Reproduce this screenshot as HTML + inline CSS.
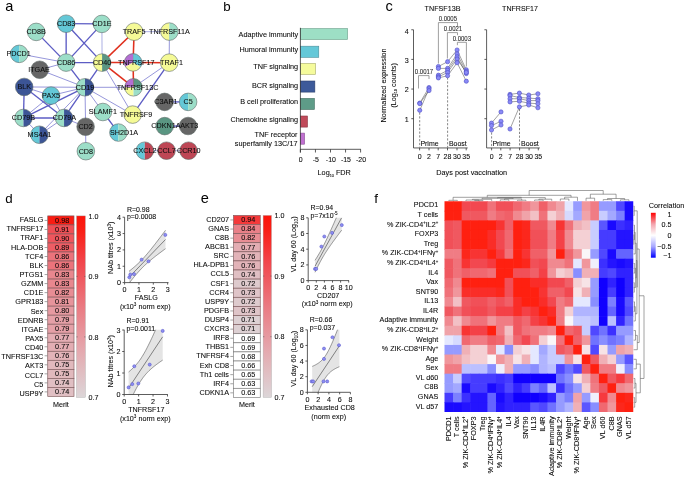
<!DOCTYPE html>
<html><head><meta charset="utf-8"><style>
html,body{margin:0;padding:0;background:#fff;width:685px;height:480px;overflow:hidden}
svg{display:block;font-family:"Liberation Sans", sans-serif;will-change:transform}
text{stroke:#000;stroke-width:0.08px}
</style></head><body>
<svg width="685" height="480" viewBox="0 0 685 480">
<rect width="685" height="480" fill="#fff"/>
<text x="5.30" y="10.80" font-size="14.6" text-anchor="start" fill="#000" style="stroke:none">a</text>
<text x="223.30" y="10.60" font-size="13.3" text-anchor="start" fill="#000" style="stroke:none">b</text>
<text x="385.40" y="10.90" font-size="14.6" text-anchor="start" fill="#000" style="stroke:none">c</text>
<text x="5.30" y="202.70" font-size="13.3" text-anchor="start" fill="#000" style="stroke:none">d</text>
<text x="200.80" y="202.60" font-size="14.6" text-anchor="start" fill="#000" style="stroke:none">e</text>
<text x="374.30" y="202.70" font-size="13.5" text-anchor="start" fill="#000" style="stroke:none">f</text>
<line x1="36.20" y1="31.90" x2="66.15" y2="62.60" stroke="#5c5cc4" stroke-width="1.35" />
<line x1="66.15" y1="23.70" x2="101.90" y2="23.90" stroke="#5c5cc4" stroke-width="1.35" />
<line x1="66.15" y1="23.70" x2="66.15" y2="62.60" stroke="#5c5cc4" stroke-width="1.35" />
<line x1="66.15" y1="23.70" x2="102.10" y2="62.60" stroke="#5c5cc4" stroke-width="1.35" />
<line x1="101.90" y1="23.90" x2="66.15" y2="62.60" stroke="#5c5cc4" stroke-width="1.35" />
<line x1="101.90" y1="23.90" x2="102.10" y2="62.60" stroke="#a2a6e0" stroke-width="0.9" />
<line x1="19.20" y1="53.85" x2="66.15" y2="62.60" stroke="#6a6acc" stroke-width="0.7" />
<line x1="39.70" y1="69.75" x2="66.15" y2="62.60" stroke="#6a6acc" stroke-width="0.7" />
<line x1="39.70" y1="69.75" x2="85.00" y2="87.30" stroke="#6a6acc" stroke-width="0.7" />
<line x1="66.15" y1="62.60" x2="102.10" y2="62.60" stroke="#5c5cc4" stroke-width="1.35" />
<line x1="66.15" y1="62.60" x2="85.00" y2="87.30" stroke="#5c5cc4" stroke-width="1.35" />
<line x1="102.10" y1="62.60" x2="85.00" y2="87.30" stroke="#5c5cc4" stroke-width="1.35" />
<line x1="102.10" y1="62.60" x2="132.65" y2="114.60" stroke="#6a6acc" stroke-width="0.7" />
<line x1="134.10" y1="31.70" x2="169.40" y2="31.60" stroke="#a2a6e0" stroke-width="0.9" />
<line x1="169.40" y1="31.60" x2="169.20" y2="62.65" stroke="#6a6acc" stroke-width="0.7" />
<line x1="169.20" y1="62.65" x2="133.50" y2="87.30" stroke="#6a6acc" stroke-width="0.7" />
<line x1="169.20" y1="62.65" x2="132.65" y2="114.60" stroke="#5c5cc4" stroke-width="1.35" />
<line x1="85.00" y1="87.30" x2="133.50" y2="87.30" stroke="#6a6acc" stroke-width="0.7" />
<line x1="85.00" y1="87.30" x2="132.65" y2="114.60" stroke="#6a6acc" stroke-width="0.7" />
<line x1="85.00" y1="87.30" x2="102.90" y2="112.00" stroke="#6a6acc" stroke-width="0.7" />
<line x1="85.00" y1="87.30" x2="85.60" y2="126.75" stroke="#6a6acc" stroke-width="0.7" />
<line x1="85.00" y1="87.30" x2="24.20" y2="86.95" stroke="#6a6acc" stroke-width="0.7" />
<line x1="85.00" y1="87.30" x2="51.05" y2="95.60" stroke="#6a6acc" stroke-width="0.7" />
<line x1="85.00" y1="87.30" x2="23.50" y2="117.95" stroke="#5c5cc4" stroke-width="1.35" />
<line x1="85.00" y1="87.30" x2="64.05" y2="117.95" stroke="#5c5cc4" stroke-width="1.35" />
<line x1="85.00" y1="87.30" x2="39.45" y2="134.75" stroke="#6a6acc" stroke-width="0.7" />
<line x1="24.20" y1="86.95" x2="51.05" y2="95.60" stroke="#6a6acc" stroke-width="0.7" />
<line x1="24.20" y1="86.95" x2="23.50" y2="117.95" stroke="#5c5cc4" stroke-width="1.35" />
<line x1="24.20" y1="86.95" x2="64.05" y2="117.95" stroke="#5c5cc4" stroke-width="1.35" />
<line x1="51.05" y1="95.60" x2="23.50" y2="117.95" stroke="#6a6acc" stroke-width="0.7" />
<line x1="51.05" y1="95.60" x2="64.05" y2="117.95" stroke="#6a6acc" stroke-width="0.7" />
<line x1="23.50" y1="117.95" x2="64.05" y2="117.95" stroke="#5c5cc4" stroke-width="1.35" />
<line x1="23.50" y1="117.95" x2="39.45" y2="134.75" stroke="#6a6acc" stroke-width="0.7" />
<line x1="64.05" y1="117.95" x2="39.45" y2="134.75" stroke="#6a6acc" stroke-width="0.7" />
<line x1="64.05" y1="117.95" x2="85.60" y2="126.75" stroke="#6a6acc" stroke-width="0.7" />
<line x1="85.60" y1="126.75" x2="85.85" y2="151.20" stroke="#6a6acc" stroke-width="0.7" />
<line x1="102.90" y1="112.00" x2="118.40" y2="132.55" stroke="#5c5cc4" stroke-width="1.35" />
<line x1="164.60" y1="101.90" x2="188.10" y2="101.90" stroke="#5c5cc4" stroke-width="1.35" />
<line x1="164.70" y1="126.10" x2="188.10" y2="126.00" stroke="#5c5cc4" stroke-width="1.35" />
<line x1="144.80" y1="150.70" x2="166.50" y2="150.70" stroke="#a2a6e0" stroke-width="0.9" />
<line x1="166.50" y1="150.70" x2="188.50" y2="150.70" stroke="#a2a6e0" stroke-width="0.9" />
<line x1="102.10" y1="62.60" x2="134.10" y2="31.70" stroke="#e0301e" stroke-width="1.55" />
<line x1="102.10" y1="62.60" x2="133.10" y2="62.40" stroke="#e0301e" stroke-width="1.55" />
<line x1="102.10" y1="62.60" x2="133.50" y2="87.30" stroke="#e0301e" stroke-width="1.55" />
<line x1="134.10" y1="31.70" x2="133.10" y2="62.40" stroke="#e0301e" stroke-width="1.55" />
<line x1="133.10" y1="62.40" x2="169.20" y2="62.65" stroke="#e0301e" stroke-width="1.55" />
<line x1="133.10" y1="62.40" x2="133.50" y2="87.30" stroke="#e0301e" stroke-width="1.55" />
<circle cx="36.2" cy="31.9" r="8.8" fill="#9cdec8"/>
<circle cx="36.2" cy="31.9" r="8.8" fill="none" stroke="#5e6a66" stroke-width="0.6"/>
<circle cx="66.15" cy="23.7" r="8.8" fill="#64c8d7"/>
<circle cx="66.15" cy="23.7" r="8.8" fill="none" stroke="#5e6a66" stroke-width="0.6"/>
<circle cx="101.9" cy="23.9" r="8.8" fill="#9cdec8"/>
<circle cx="101.9" cy="23.9" r="8.8" fill="none" stroke="#5e6a66" stroke-width="0.6"/>
<circle cx="134.1" cy="31.7" r="8.8" fill="#f5fa96"/>
<circle cx="134.1" cy="31.7" r="8.8" fill="none" stroke="#5e6a66" stroke-width="0.6"/>
<path d="M169.40,31.60 L169.40,22.80 A8.8,8.8 0 0 0 169.40,40.40 Z" fill="#f5fa96"/>
<path d="M169.40,31.60 L169.40,40.40 A8.8,8.8 0 0 0 169.40,22.80 Z" fill="#9cdec8"/>
<circle cx="169.4" cy="31.6" r="8.8" fill="none" stroke="#5e6a66" stroke-width="0.6"/>
<path d="M19.20,53.85 L19.20,45.05 A8.8,8.8 0 0 0 19.20,62.65 Z" fill="#64c8d7"/>
<path d="M19.20,53.85 L19.20,62.65 A8.8,8.8 0 0 0 19.20,45.05 Z" fill="#9cdec8"/>
<circle cx="19.2" cy="53.85" r="8.8" fill="none" stroke="#5e6a66" stroke-width="0.6"/>
<circle cx="66.15" cy="62.6" r="8.8" fill="#9cdec8"/>
<circle cx="66.15" cy="62.6" r="8.8" fill="none" stroke="#5e6a66" stroke-width="0.6"/>
<path d="M102.10,62.60 L102.10,53.80 A8.8,8.8 0 0 0 102.10,71.40 Z" fill="#f5fa96"/>
<path d="M102.10,62.60 L102.10,71.40 A8.8,8.8 0 0 0 102.10,53.80 Z" fill="#5a9682"/>
<circle cx="102.1" cy="62.6" r="8.8" fill="none" stroke="#5e6a66" stroke-width="0.6"/>
<path d="M133.10,62.40 L133.10,53.60 A8.8,8.8 0 0 0 125.48,66.80 Z" fill="#b46ed2"/>
<path d="M133.10,62.40 L125.48,66.80 A8.8,8.8 0 0 0 140.72,66.80 Z" fill="#f5fa96"/>
<path d="M133.10,62.40 L140.72,66.80 A8.8,8.8 0 0 0 133.10,53.60 Z" fill="#64c8d7"/>
<circle cx="133.1" cy="62.4" r="8.8" fill="none" stroke="#5e6a66" stroke-width="0.6"/>
<circle cx="169.2" cy="62.65" r="8.8" fill="#f5fa96"/>
<circle cx="169.2" cy="62.65" r="8.8" fill="none" stroke="#5e6a66" stroke-width="0.6"/>
<circle cx="39.7" cy="69.75" r="8.8" fill="#666666"/>
<circle cx="39.7" cy="69.75" r="8.8" fill="none" stroke="#5e6a66" stroke-width="0.6"/>
<circle cx="24.2" cy="86.95" r="8.8" fill="#3c5596"/>
<circle cx="24.2" cy="86.95" r="8.8" fill="none" stroke="#5e6a66" stroke-width="0.6"/>
<circle cx="51.05" cy="95.6" r="8.8" fill="#64c8d7"/>
<circle cx="51.05" cy="95.6" r="8.8" fill="none" stroke="#5e6a66" stroke-width="0.6"/>
<path d="M85.00,87.30 L85.00,78.50 A8.8,8.8 0 0 0 85.00,96.10 Z" fill="#9cdec8"/>
<path d="M85.00,87.30 L85.00,96.10 A8.8,8.8 0 0 0 85.00,78.50 Z" fill="#3c5596"/>
<circle cx="85" cy="87.3" r="8.8" fill="none" stroke="#5e6a66" stroke-width="0.6"/>
<path d="M133.50,87.30 L133.50,78.50 A8.8,8.8 0 0 0 124.70,87.30 Z" fill="#b46ed2"/>
<path d="M133.50,87.30 L124.70,87.30 A8.8,8.8 0 0 0 133.50,96.10 Z" fill="#f5fa96"/>
<path d="M133.50,87.30 L133.50,96.10 A8.8,8.8 0 0 0 142.30,87.30 Z" fill="#9cdec8"/>
<path d="M133.50,87.30 L142.30,87.30 A8.8,8.8 0 0 0 133.50,78.50 Z" fill="#5a9682"/>
<circle cx="133.5" cy="87.3" r="8.8" fill="none" stroke="#5e6a66" stroke-width="0.6"/>
<circle cx="164.6" cy="101.9" r="8.8" fill="#666666"/>
<circle cx="164.6" cy="101.9" r="8.8" fill="none" stroke="#5e6a66" stroke-width="0.6"/>
<path d="M188.10,101.90 L188.10,93.10 A8.8,8.8 0 0 0 188.10,110.70 Z" fill="#64c8d7"/>
<path d="M188.10,101.90 L188.10,110.70 A8.8,8.8 0 0 0 188.10,93.10 Z" fill="#9cdec8"/>
<circle cx="188.1" cy="101.9" r="8.8" fill="none" stroke="#5e6a66" stroke-width="0.6"/>
<circle cx="102.9" cy="112.0" r="8.8" fill="#9cdec8"/>
<circle cx="102.9" cy="112.0" r="8.8" fill="none" stroke="#5e6a66" stroke-width="0.6"/>
<circle cx="132.65" cy="114.6" r="8.8" fill="#f5fa96"/>
<circle cx="132.65" cy="114.6" r="8.8" fill="none" stroke="#5e6a66" stroke-width="0.6"/>
<path d="M23.50,117.95 L23.50,109.15 A8.8,8.8 0 0 0 23.50,126.75 Z" fill="#9cdec8"/>
<path d="M23.50,117.95 L23.50,126.75 A8.8,8.8 0 0 0 23.50,109.15 Z" fill="#3c5596"/>
<circle cx="23.5" cy="117.95" r="8.8" fill="none" stroke="#5e6a66" stroke-width="0.6"/>
<path d="M64.05,117.95 L64.05,109.15 A8.8,8.8 0 0 0 64.05,126.75 Z" fill="#9cdec8"/>
<path d="M64.05,117.95 L64.05,126.75 A8.8,8.8 0 0 0 64.05,109.15 Z" fill="#3c5596"/>
<circle cx="64.05" cy="117.95" r="8.8" fill="none" stroke="#5e6a66" stroke-width="0.6"/>
<circle cx="85.6" cy="126.75" r="8.8" fill="#666666"/>
<circle cx="85.6" cy="126.75" r="8.8" fill="none" stroke="#5e6a66" stroke-width="0.6"/>
<path d="M118.40,132.55 L118.40,123.75 A8.8,8.8 0 0 0 118.40,141.35 Z" fill="#64c8d7"/>
<path d="M118.40,132.55 L118.40,141.35 A8.8,8.8 0 0 0 118.40,123.75 Z" fill="#9cdec8"/>
<circle cx="118.4" cy="132.55" r="8.8" fill="none" stroke="#5e6a66" stroke-width="0.6"/>
<circle cx="164.7" cy="126.1" r="8.8" fill="#5a9682"/>
<circle cx="164.7" cy="126.1" r="8.8" fill="none" stroke="#5e6a66" stroke-width="0.6"/>
<circle cx="188.1" cy="126.0" r="8.8" fill="#666666"/>
<circle cx="188.1" cy="126.0" r="8.8" fill="none" stroke="#5e6a66" stroke-width="0.6"/>
<path d="M39.45,134.75 L39.45,125.95 A8.8,8.8 0 0 0 39.45,143.55 Z" fill="#64c8d7"/>
<path d="M39.45,134.75 L39.45,143.55 A8.8,8.8 0 0 0 39.45,125.95 Z" fill="#3c5596"/>
<circle cx="39.45" cy="134.75" r="8.8" fill="none" stroke="#5e6a66" stroke-width="0.6"/>
<circle cx="85.85" cy="151.2" r="8.8" fill="#9cdec8"/>
<circle cx="85.85" cy="151.2" r="8.8" fill="none" stroke="#5e6a66" stroke-width="0.6"/>
<path d="M144.80,150.70 L144.80,141.90 A8.8,8.8 0 0 0 144.80,159.50 Z" fill="#64c8d7"/>
<path d="M144.80,150.70 L144.80,159.50 A8.8,8.8 0 0 0 144.80,141.90 Z" fill="#be4655"/>
<circle cx="144.8" cy="150.7" r="8.8" fill="none" stroke="#5e6a66" stroke-width="0.6"/>
<circle cx="166.5" cy="150.7" r="8.8" fill="#be4655"/>
<circle cx="166.5" cy="150.7" r="8.8" fill="none" stroke="#5e6a66" stroke-width="0.6"/>
<circle cx="188.5" cy="150.7" r="8.8" fill="#be4655"/>
<circle cx="188.5" cy="150.7" r="8.8" fill="none" stroke="#5e6a66" stroke-width="0.6"/>
<text transform="translate(36.20,34.20) scale(0.95,1)" font-size="7.6" text-anchor="middle" fill="#101010">CD8B</text>
<text transform="translate(66.15,26.00) scale(0.95,1)" font-size="7.6" text-anchor="middle" fill="#101010">CD83</text>
<text transform="translate(101.90,26.20) scale(0.95,1)" font-size="7.6" text-anchor="middle" fill="#101010">CD1E</text>
<text transform="translate(134.10,34.00) scale(0.95,1)" font-size="7.6" text-anchor="middle" fill="#101010">TRAF5</text>
<text transform="translate(169.40,33.90) scale(0.95,1)" font-size="7.6" text-anchor="middle" fill="#101010">TNFRSF11A</text>
<text transform="translate(18.60,56.15) scale(0.95,1)" font-size="7.6" text-anchor="middle" fill="#101010">PDCD1</text>
<text transform="translate(66.15,64.90) scale(0.95,1)" font-size="7.6" text-anchor="middle" fill="#101010">CD86</text>
<text transform="translate(102.10,64.90) scale(0.95,1)" font-size="7.6" text-anchor="middle" fill="#101010">CD40</text>
<text transform="translate(136.25,64.70) scale(0.95,1)" font-size="7.6" text-anchor="middle" fill="#101010">TNFRSF17</text>
<text transform="translate(171.50,64.95) scale(0.95,1)" font-size="7.6" text-anchor="middle" fill="#101010">TRAF1</text>
<text transform="translate(38.95,72.05) scale(0.95,1)" font-size="7.6" text-anchor="middle" fill="#101010">ITGAE</text>
<text transform="translate(24.20,89.25) scale(0.95,1)" font-size="7.6" text-anchor="middle" fill="#101010">BLK</text>
<text transform="translate(51.05,97.90) scale(0.95,1)" font-size="7.6" text-anchor="middle" fill="#101010">PAX5</text>
<text transform="translate(85.00,89.60) scale(0.95,1)" font-size="7.6" text-anchor="middle" fill="#101010">CD19</text>
<text transform="translate(137.50,89.60) scale(0.95,1)" font-size="7.6" text-anchor="middle" fill="#101010">TNFRSF13C</text>
<text transform="translate(166.00,104.20) scale(0.95,1)" font-size="7.6" text-anchor="middle" fill="#101010">C3AR1</text>
<text transform="translate(188.10,104.20) scale(0.95,1)" font-size="7.6" text-anchor="middle" fill="#101010">C5</text>
<text transform="translate(102.90,114.30) scale(0.95,1)" font-size="7.6" text-anchor="middle" fill="#101010">SLAMF1</text>
<text transform="translate(135.90,116.90) scale(0.95,1)" font-size="7.6" text-anchor="middle" fill="#101010">TNFRSF9</text>
<text transform="translate(23.50,120.25) scale(0.95,1)" font-size="7.6" text-anchor="middle" fill="#101010">CD79B</text>
<text transform="translate(64.45,120.25) scale(0.95,1)" font-size="7.6" text-anchor="middle" fill="#101010">CD79A</text>
<text transform="translate(85.60,129.05) scale(0.95,1)" font-size="7.6" text-anchor="middle" fill="#101010">CD2</text>
<text transform="translate(124.00,134.85) scale(0.95,1)" font-size="7.6" text-anchor="middle" fill="#101010">SH2D1A</text>
<text transform="translate(165.90,128.40) scale(0.95,1)" font-size="7.6" text-anchor="middle" fill="#101010">CDKN1A</text>
<text transform="translate(189.20,128.30) scale(0.95,1)" font-size="7.6" text-anchor="middle" fill="#101010">AKT3</text>
<text transform="translate(39.45,137.05) scale(0.95,1)" font-size="7.6" text-anchor="middle" fill="#101010">MS4A1</text>
<text transform="translate(85.85,153.50) scale(0.95,1)" font-size="7.6" text-anchor="middle" fill="#101010">CD8</text>
<text transform="translate(144.80,153.00) scale(0.95,1)" font-size="7.6" text-anchor="middle" fill="#101010">CXCL2</text>
<text transform="translate(166.50,153.00) scale(0.95,1)" font-size="7.6" text-anchor="middle" fill="#101010">CCL7</text>
<text transform="translate(188.75,153.00) scale(0.95,1)" font-size="7.6" text-anchor="middle" fill="#101010">CCR10</text>
<rect x="300.40" y="28.50" width="47.26" height="11.1" fill="#9ddfc5" stroke="#6f9f8c" stroke-width="0.6"/>
<text transform="translate(298.10,36.60) scale(0.955,1)" font-size="7.63" text-anchor="end" fill="#0c0c0c" >Adaptive immunity</text>
<rect x="300.40" y="46.20" width="18.36" height="11.1" fill="#64c8d8" stroke="#4a8e9a" stroke-width="0.6"/>
<text transform="translate(298.10,52.10) scale(0.955,1)" font-size="7.63" text-anchor="end" fill="#0c0c0c" >Humoral immunity</text>
<rect x="300.40" y="63.40" width="15.26" height="11.1" fill="#f5fb9c" stroke="#a8ac70" stroke-width="0.6"/>
<text transform="translate(298.10,69.20) scale(0.955,1)" font-size="7.63" text-anchor="end" fill="#0c0c0c" >TNF signaling</text>
<rect x="300.40" y="81.00" width="14.45" height="11.1" fill="#3d5a9a" stroke="#2c3f6c" stroke-width="0.6"/>
<text transform="translate(298.10,87.60) scale(0.955,1)" font-size="7.63" text-anchor="end" fill="#0c0c0c" >BCR signaling</text>
<rect x="300.40" y="98.40" width="14.00" height="11.1" fill="#5e9c88" stroke="#456f62" stroke-width="0.6"/>
<text transform="translate(298.10,104.30) scale(0.955,1)" font-size="7.63" text-anchor="end" fill="#0c0c0c" >B cell proliferation</text>
<rect x="300.40" y="116.00" width="7.07" height="11.1" fill="#c04a5a" stroke="#8a3540" stroke-width="0.6"/>
<text transform="translate(298.10,121.50) scale(0.955,1)" font-size="7.63" text-anchor="end" fill="#0c0c0c" >Chemokine signaling</text>
<rect x="300.40" y="133.10" width="4.21" height="11.1" fill="#c070d0" stroke="#8a5296" stroke-width="0.6"/>
<text transform="translate(297.50,137.10) scale(0.955,1)" font-size="7.63" text-anchor="end" fill="#0c0c0c" >TNF receptor</text>
<text transform="translate(297.50,145.60) scale(0.955,1)" font-size="7.63" text-anchor="end" fill="#0c0c0c" >superfamily 13C/17</text>
<line x1="300.40" y1="27.80" x2="300.40" y2="152.50" stroke="#333" stroke-width="0.8" />
<line x1="300.40" y1="149.30" x2="360.90" y2="149.30" stroke="#333" stroke-width="0.8" />
<line x1="300.40" y1="149.30" x2="300.40" y2="152.50" stroke="#333" stroke-width="0.8" />
<text transform="translate(300.80,162.00) scale(0.955,1)" font-size="7.31" text-anchor="middle" fill="#0c0c0c" >0</text>
<line x1="315.45" y1="149.30" x2="315.45" y2="152.50" stroke="#333" stroke-width="0.8" />
<text transform="translate(315.85,162.00) scale(0.955,1)" font-size="7.31" text-anchor="middle" fill="#0c0c0c" >-5</text>
<line x1="330.50" y1="149.30" x2="330.50" y2="152.50" stroke="#333" stroke-width="0.8" />
<text transform="translate(330.90,162.00) scale(0.955,1)" font-size="7.31" text-anchor="middle" fill="#0c0c0c" >-10</text>
<line x1="345.55" y1="149.30" x2="345.55" y2="152.50" stroke="#333" stroke-width="0.8" />
<text transform="translate(345.95,162.00) scale(0.955,1)" font-size="7.31" text-anchor="middle" fill="#0c0c0c" >-15</text>
<line x1="360.60" y1="149.30" x2="360.60" y2="152.50" stroke="#333" stroke-width="0.8" />
<text transform="translate(361.00,162.00) scale(0.955,1)" font-size="7.31" text-anchor="middle" fill="#0c0c0c" >-20</text>
<text transform="translate(334.2,175) scale(0.955,1)" font-size="7.63" text-anchor="middle" fill="#0c0c0c">Log<tspan font-size="3.97" dy="1.5">10</tspan><tspan dy="-1.5"> FDR</tspan></text>
<text transform="translate(442.50,11.00) scale(0.955,1)" font-size="7.52" text-anchor="middle" fill="#0c0c0c" >TNFSF13B</text>
<text transform="translate(520.00,10.90) scale(0.955,1)" font-size="7.42" text-anchor="middle" fill="#0c0c0c" >TNFRSF17</text>
<text transform="translate(386,85.4) rotate(-90) scale(0.955,1)" font-size="7.63" text-anchor="middle" fill="#0c0c0c">Normalized expression</text>
<text transform="translate(395.8,85.4) rotate(-90) scale(0.955,1)" font-size="7.63" text-anchor="middle" fill="#0c0c0c">(Log<tspan font-size="3.97" dy="1.5">10</tspan><tspan dy="-1.5"> counts)</tspan></text>
<line x1="413.50" y1="29.75" x2="413.50" y2="147.95" stroke="#333" stroke-width="0.8" />
<line x1="413.50" y1="147.95" x2="467.70" y2="147.95" stroke="#333" stroke-width="0.8" />
<line x1="411.30" y1="118.70" x2="413.50" y2="118.70" stroke="#333" stroke-width="0.8" />
<text transform="translate(408.80,122.10) scale(0.955,1)" font-size="7.52" text-anchor="end" fill="#0c0c0c" >1</text>
<line x1="411.30" y1="89.05" x2="413.50" y2="89.05" stroke="#333" stroke-width="0.8" />
<text transform="translate(408.80,92.45) scale(0.955,1)" font-size="7.52" text-anchor="end" fill="#0c0c0c" >2</text>
<line x1="411.30" y1="59.40" x2="413.50" y2="59.40" stroke="#333" stroke-width="0.8" />
<text transform="translate(408.80,62.80) scale(0.955,1)" font-size="7.52" text-anchor="end" fill="#0c0c0c" >3</text>
<line x1="411.30" y1="29.75" x2="413.50" y2="29.75" stroke="#333" stroke-width="0.8" />
<text transform="translate(408.80,33.95) scale(0.955,1)" font-size="7.52" text-anchor="end" fill="#0c0c0c" >4</text>
<line x1="419.60" y1="147.95" x2="419.60" y2="150.35" stroke="#333" stroke-width="0.8" />
<text transform="translate(419.60,158.80) scale(0.955,1)" font-size="7.31" text-anchor="middle" fill="#0c0c0c" >0</text>
<line x1="429.00" y1="147.95" x2="429.00" y2="150.35" stroke="#333" stroke-width="0.8" />
<text transform="translate(429.00,158.80) scale(0.955,1)" font-size="7.31" text-anchor="middle" fill="#0c0c0c" >2</text>
<line x1="438.20" y1="147.95" x2="438.20" y2="150.35" stroke="#333" stroke-width="0.8" />
<text transform="translate(438.20,158.80) scale(0.955,1)" font-size="7.31" text-anchor="middle" fill="#0c0c0c" >7</text>
<line x1="447.50" y1="147.95" x2="447.50" y2="150.35" stroke="#333" stroke-width="0.8" />
<text transform="translate(447.50,158.80) scale(0.955,1)" font-size="7.31" text-anchor="middle" fill="#0c0c0c" >28</text>
<line x1="457.00" y1="147.95" x2="457.00" y2="150.35" stroke="#333" stroke-width="0.8" />
<text transform="translate(457.00,158.80) scale(0.955,1)" font-size="7.31" text-anchor="middle" fill="#0c0c0c" >30</text>
<line x1="466.20" y1="147.95" x2="466.20" y2="150.35" stroke="#333" stroke-width="0.8" />
<text transform="translate(466.20,158.80) scale(0.955,1)" font-size="7.31" text-anchor="middle" fill="#0c0c0c" >35</text>
<text transform="translate(420.40,146.00) scale(0.955,1)" font-size="7.31" text-anchor="start" fill="#0c0c0c" >Prime</text>
<text transform="translate(448.90,146.00) scale(0.955,1)" font-size="7.31" text-anchor="start" fill="#0c0c0c" >Boost</text>
<line x1="486.60" y1="29.75" x2="486.60" y2="147.95" stroke="#333" stroke-width="0.8" />
<line x1="486.60" y1="147.95" x2="539.80" y2="147.95" stroke="#333" stroke-width="0.8" />
<line x1="484.40" y1="118.70" x2="486.60" y2="118.70" stroke="#333" stroke-width="0.8" />
<line x1="484.40" y1="89.05" x2="486.60" y2="89.05" stroke="#333" stroke-width="0.8" />
<line x1="484.40" y1="59.40" x2="486.60" y2="59.40" stroke="#333" stroke-width="0.8" />
<line x1="484.40" y1="29.75" x2="486.60" y2="29.75" stroke="#333" stroke-width="0.8" />
<line x1="491.60" y1="147.95" x2="491.60" y2="150.35" stroke="#333" stroke-width="0.8" />
<text transform="translate(491.60,158.80) scale(0.955,1)" font-size="7.31" text-anchor="middle" fill="#0c0c0c" >0</text>
<line x1="500.80" y1="147.95" x2="500.80" y2="150.35" stroke="#333" stroke-width="0.8" />
<text transform="translate(500.80,158.80) scale(0.955,1)" font-size="7.31" text-anchor="middle" fill="#0c0c0c" >2</text>
<line x1="510.10" y1="147.95" x2="510.10" y2="150.35" stroke="#333" stroke-width="0.8" />
<text transform="translate(510.10,158.80) scale(0.955,1)" font-size="7.31" text-anchor="middle" fill="#0c0c0c" >7</text>
<line x1="519.60" y1="147.95" x2="519.60" y2="150.35" stroke="#333" stroke-width="0.8" />
<text transform="translate(519.60,158.80) scale(0.955,1)" font-size="7.31" text-anchor="middle" fill="#0c0c0c" >28</text>
<line x1="529.10" y1="147.95" x2="529.10" y2="150.35" stroke="#333" stroke-width="0.8" />
<text transform="translate(529.10,158.80) scale(0.955,1)" font-size="7.31" text-anchor="middle" fill="#0c0c0c" >30</text>
<line x1="538.30" y1="147.95" x2="538.30" y2="150.35" stroke="#333" stroke-width="0.8" />
<text transform="translate(538.30,158.80) scale(0.955,1)" font-size="7.31" text-anchor="middle" fill="#0c0c0c" >35</text>
<text transform="translate(492.40,146.00) scale(0.955,1)" font-size="7.31" text-anchor="start" fill="#0c0c0c" >Prime</text>
<text transform="translate(521.00,146.00) scale(0.955,1)" font-size="7.31" text-anchor="start" fill="#0c0c0c" >Boost</text>
<text transform="translate(471.70,175.20) scale(0.955,1)" font-size="7.63" text-anchor="middle" fill="#0c0c0c" >Days post vaccination</text>
<line x1="419.70" y1="112.50" x2="419.70" y2="147.50" stroke="#555" stroke-width="0.7" stroke-dasharray="2.2,1.6"/>
<line x1="447.60" y1="77.50" x2="447.60" y2="147.50" stroke="#555" stroke-width="0.7" stroke-dasharray="2.2,1.6"/>
<line x1="491.60" y1="132.50" x2="491.60" y2="147.50" stroke="#555" stroke-width="0.7" stroke-dasharray="2.2,1.6"/>
<line x1="519.50" y1="109.00" x2="519.50" y2="147.50" stroke="#555" stroke-width="0.7" stroke-dasharray="2.2,1.6"/>
<polyline points="438.4,63.5 438.4,22.6 457.5,22.6 457.5,26.2" fill="none" stroke="#777" stroke-width="0.7"/>
<text transform="translate(447.80,20.90) scale(0.955,1)" font-size="6.27" text-anchor="middle" fill="#333" >0.0005</text>
<polyline points="447.4,58.5 447.4,32.6 457.5,32.6 457.5,35.2" fill="none" stroke="#777" stroke-width="0.7"/>
<text transform="translate(453.00,30.80) scale(0.955,1)" font-size="6.27" text-anchor="middle" fill="#333" >0.0021</text>
<polyline points="457.4,45.2 457.4,42.3 466.4,42.3 466.4,66.5" fill="none" stroke="#777" stroke-width="0.7"/>
<text transform="translate(461.80,40.80) scale(0.955,1)" font-size="6.27" text-anchor="middle" fill="#333" >0.0003</text>
<polyline points="418.5,88.5 418.5,75.6 429.0,75.6 429.0,79.0" fill="none" stroke="#777" stroke-width="0.7"/>
<text transform="translate(424.00,74.40) scale(0.955,1)" font-size="6.27" text-anchor="middle" fill="#333" >0.0017</text>
<polyline points="419.75,103.10 429.00,87.50" fill="none" stroke="#444" stroke-width="0.5"/>
<polyline points="419.75,103.60 429.00,90.60" fill="none" stroke="#444" stroke-width="0.5"/>
<polyline points="419.75,110.30 429.00,88.80" fill="none" stroke="#444" stroke-width="0.5"/>
<polyline points="438.40,66.50 447.60,61.70 457.10,50.00 466.30,69.80" fill="none" stroke="#444" stroke-width="0.5"/>
<polyline points="438.40,68.40 447.60,68.40 457.10,54.00 466.30,71.40" fill="none" stroke="#444" stroke-width="0.5"/>
<polyline points="438.40,75.20 447.60,70.30 457.10,56.80 466.30,73.60" fill="none" stroke="#444" stroke-width="0.5"/>
<polyline points="438.40,76.80 447.60,72.50 457.10,59.00 466.30,72.50" fill="none" stroke="#444" stroke-width="0.5"/>
<polyline points="438.40,77.90 447.60,75.75 457.10,62.75 466.30,81.20" fill="none" stroke="#444" stroke-width="0.5"/>
<circle cx="419.75" cy="103.10" r="2.1" fill="#8a8af6" stroke="#4c4cc4" stroke-width="0.6"/>
<circle cx="419.75" cy="103.60" r="2.1" fill="#8a8af6" stroke="#4c4cc4" stroke-width="0.6"/>
<circle cx="419.75" cy="110.30" r="2.1" fill="#8a8af6" stroke="#4c4cc4" stroke-width="0.6"/>
<circle cx="429.00" cy="87.50" r="2.1" fill="#8a8af6" stroke="#4c4cc4" stroke-width="0.6"/>
<circle cx="429.00" cy="88.80" r="2.1" fill="#8a8af6" stroke="#4c4cc4" stroke-width="0.6"/>
<circle cx="429.00" cy="90.60" r="2.1" fill="#8a8af6" stroke="#4c4cc4" stroke-width="0.6"/>
<circle cx="438.40" cy="66.50" r="2.1" fill="#8a8af6" stroke="#4c4cc4" stroke-width="0.6"/>
<circle cx="438.40" cy="68.40" r="2.1" fill="#8a8af6" stroke="#4c4cc4" stroke-width="0.6"/>
<circle cx="438.40" cy="75.20" r="2.1" fill="#8a8af6" stroke="#4c4cc4" stroke-width="0.6"/>
<circle cx="438.40" cy="76.80" r="2.1" fill="#8a8af6" stroke="#4c4cc4" stroke-width="0.6"/>
<circle cx="438.40" cy="77.90" r="2.1" fill="#8a8af6" stroke="#4c4cc4" stroke-width="0.6"/>
<circle cx="447.60" cy="61.70" r="2.1" fill="#8a8af6" stroke="#4c4cc4" stroke-width="0.6"/>
<circle cx="447.60" cy="68.40" r="2.1" fill="#8a8af6" stroke="#4c4cc4" stroke-width="0.6"/>
<circle cx="447.60" cy="70.30" r="2.1" fill="#8a8af6" stroke="#4c4cc4" stroke-width="0.6"/>
<circle cx="447.60" cy="72.50" r="2.1" fill="#8a8af6" stroke="#4c4cc4" stroke-width="0.6"/>
<circle cx="447.60" cy="75.75" r="2.1" fill="#8a8af6" stroke="#4c4cc4" stroke-width="0.6"/>
<circle cx="457.10" cy="50.00" r="2.1" fill="#8a8af6" stroke="#4c4cc4" stroke-width="0.6"/>
<circle cx="457.10" cy="54.00" r="2.1" fill="#8a8af6" stroke="#4c4cc4" stroke-width="0.6"/>
<circle cx="457.10" cy="56.80" r="2.1" fill="#8a8af6" stroke="#4c4cc4" stroke-width="0.6"/>
<circle cx="457.10" cy="59.00" r="2.1" fill="#8a8af6" stroke="#4c4cc4" stroke-width="0.6"/>
<circle cx="457.10" cy="62.75" r="2.1" fill="#8a8af6" stroke="#4c4cc4" stroke-width="0.6"/>
<circle cx="466.30" cy="69.80" r="2.1" fill="#8a8af6" stroke="#4c4cc4" stroke-width="0.6"/>
<circle cx="466.30" cy="71.40" r="2.1" fill="#8a8af6" stroke="#4c4cc4" stroke-width="0.6"/>
<circle cx="466.30" cy="73.60" r="2.1" fill="#8a8af6" stroke="#4c4cc4" stroke-width="0.6"/>
<circle cx="466.30" cy="81.20" r="2.1" fill="#8a8af6" stroke="#4c4cc4" stroke-width="0.6"/>
<circle cx="466.30" cy="72.50" r="2.1" fill="#8a8af6" stroke="#4c4cc4" stroke-width="0.6"/>
<polyline points="491.50,123.10 501.00,111.90" fill="none" stroke="#444" stroke-width="0.5"/>
<polyline points="491.50,125.60 501.00,121.25" fill="none" stroke="#444" stroke-width="0.5"/>
<polyline points="491.50,130.00 501.00,125.00" fill="none" stroke="#444" stroke-width="0.5"/>
<polyline points="510.00,94.40 519.40,93.10 528.75,95.00 537.90,93.75" fill="none" stroke="#444" stroke-width="0.5"/>
<polyline points="510.00,95.60 519.40,97.50 528.75,98.10 537.90,98.75" fill="none" stroke="#444" stroke-width="0.5"/>
<polyline points="510.00,98.75 519.40,98.75 528.75,100.60 537.90,100.60" fill="none" stroke="#444" stroke-width="0.5"/>
<polyline points="510.00,101.90 519.40,101.25 528.75,103.10 537.90,103.75" fill="none" stroke="#444" stroke-width="0.5"/>
<polyline points="510.00,129.00 519.40,106.90 528.75,105.00 537.90,107.75" fill="none" stroke="#444" stroke-width="0.5"/>
<circle cx="491.50" cy="123.10" r="2.1" fill="#8a8af6" stroke="#4c4cc4" stroke-width="0.6"/>
<circle cx="491.50" cy="125.60" r="2.1" fill="#8a8af6" stroke="#4c4cc4" stroke-width="0.6"/>
<circle cx="491.50" cy="130.00" r="2.1" fill="#8a8af6" stroke="#4c4cc4" stroke-width="0.6"/>
<circle cx="501.00" cy="111.90" r="2.1" fill="#8a8af6" stroke="#4c4cc4" stroke-width="0.6"/>
<circle cx="501.00" cy="121.25" r="2.1" fill="#8a8af6" stroke="#4c4cc4" stroke-width="0.6"/>
<circle cx="501.00" cy="125.00" r="2.1" fill="#8a8af6" stroke="#4c4cc4" stroke-width="0.6"/>
<circle cx="510.00" cy="94.40" r="2.1" fill="#8a8af6" stroke="#4c4cc4" stroke-width="0.6"/>
<circle cx="510.00" cy="95.60" r="2.1" fill="#8a8af6" stroke="#4c4cc4" stroke-width="0.6"/>
<circle cx="510.00" cy="98.75" r="2.1" fill="#8a8af6" stroke="#4c4cc4" stroke-width="0.6"/>
<circle cx="510.00" cy="101.90" r="2.1" fill="#8a8af6" stroke="#4c4cc4" stroke-width="0.6"/>
<circle cx="510.00" cy="129.00" r="2.1" fill="#8a8af6" stroke="#4c4cc4" stroke-width="0.6"/>
<circle cx="519.40" cy="93.10" r="2.1" fill="#8a8af6" stroke="#4c4cc4" stroke-width="0.6"/>
<circle cx="519.40" cy="97.50" r="2.1" fill="#8a8af6" stroke="#4c4cc4" stroke-width="0.6"/>
<circle cx="519.40" cy="98.75" r="2.1" fill="#8a8af6" stroke="#4c4cc4" stroke-width="0.6"/>
<circle cx="519.40" cy="101.25" r="2.1" fill="#8a8af6" stroke="#4c4cc4" stroke-width="0.6"/>
<circle cx="519.40" cy="106.90" r="2.1" fill="#8a8af6" stroke="#4c4cc4" stroke-width="0.6"/>
<circle cx="528.75" cy="95.00" r="2.1" fill="#8a8af6" stroke="#4c4cc4" stroke-width="0.6"/>
<circle cx="528.75" cy="98.10" r="2.1" fill="#8a8af6" stroke="#4c4cc4" stroke-width="0.6"/>
<circle cx="528.75" cy="100.60" r="2.1" fill="#8a8af6" stroke="#4c4cc4" stroke-width="0.6"/>
<circle cx="528.75" cy="103.10" r="2.1" fill="#8a8af6" stroke="#4c4cc4" stroke-width="0.6"/>
<circle cx="528.75" cy="105.00" r="2.1" fill="#8a8af6" stroke="#4c4cc4" stroke-width="0.6"/>
<circle cx="537.90" cy="93.75" r="2.1" fill="#8a8af6" stroke="#4c4cc4" stroke-width="0.6"/>
<circle cx="537.90" cy="98.75" r="2.1" fill="#8a8af6" stroke="#4c4cc4" stroke-width="0.6"/>
<circle cx="537.90" cy="100.60" r="2.1" fill="#8a8af6" stroke="#4c4cc4" stroke-width="0.6"/>
<circle cx="537.90" cy="103.75" r="2.1" fill="#8a8af6" stroke="#4c4cc4" stroke-width="0.6"/>
<circle cx="537.90" cy="107.75" r="2.1" fill="#8a8af6" stroke="#4c4cc4" stroke-width="0.6"/>
<rect x="47.75" y="215.90" width="26.25" height="9.03" fill="#fa1c12" stroke="#7e5a5c" stroke-width="0.65"/>
<text transform="translate(62.20,222.71) scale(0.955,1)" font-size="7.63" text-anchor="middle" fill="#0c0c0c" >0.98</text>
<text transform="translate(43.30,222.15) scale(0.955,1)" font-size="7.63" text-anchor="end" fill="#0c0c0c" >FASLG</text>
<line x1="44.60" y1="220.41" x2="47.45" y2="220.41" stroke="#666" stroke-width="0.6" />
<rect x="47.75" y="224.93" width="26.25" height="9.03" fill="#f04f55" stroke="#7e5a5c" stroke-width="0.65"/>
<text transform="translate(62.20,231.74) scale(0.955,1)" font-size="7.63" text-anchor="middle" fill="#0c0c0c" >0.91</text>
<text transform="translate(43.30,231.29) scale(0.955,1)" font-size="7.63" text-anchor="end" fill="#0c0c0c" >TNFRSF17</text>
<line x1="44.60" y1="229.44" x2="47.45" y2="229.44" stroke="#666" stroke-width="0.6" />
<rect x="47.75" y="233.95" width="26.25" height="9.03" fill="#ef565d" stroke="#7e5a5c" stroke-width="0.65"/>
<text transform="translate(62.20,240.76) scale(0.955,1)" font-size="7.63" text-anchor="middle" fill="#0c0c0c" >0.90</text>
<text transform="translate(43.30,240.43) scale(0.955,1)" font-size="7.63" text-anchor="end" fill="#0c0c0c" >TRAF1</text>
<line x1="44.60" y1="238.46" x2="47.45" y2="238.46" stroke="#666" stroke-width="0.6" />
<rect x="47.75" y="242.98" width="26.25" height="9.03" fill="#ee5d64" stroke="#7e5a5c" stroke-width="0.65"/>
<text transform="translate(62.20,249.79) scale(0.955,1)" font-size="7.63" text-anchor="middle" fill="#0c0c0c" >0.89</text>
<text transform="translate(43.30,249.58) scale(0.955,1)" font-size="7.63" text-anchor="end" fill="#0c0c0c" >HLA-DOB</text>
<line x1="44.60" y1="247.49" x2="47.45" y2="247.49" stroke="#666" stroke-width="0.6" />
<rect x="47.75" y="252.00" width="26.25" height="9.03" fill="#eb737b" stroke="#7e5a5c" stroke-width="0.65"/>
<text transform="translate(62.20,258.81) scale(0.955,1)" font-size="7.63" text-anchor="middle" fill="#0c0c0c" >0.86</text>
<text transform="translate(43.30,258.72) scale(0.955,1)" font-size="7.63" text-anchor="end" fill="#0c0c0c" >TCF4</text>
<line x1="44.60" y1="256.51" x2="47.45" y2="256.51" stroke="#666" stroke-width="0.6" />
<rect x="47.75" y="261.02" width="26.25" height="9.03" fill="#eb737b" stroke="#7e5a5c" stroke-width="0.65"/>
<text transform="translate(62.20,267.84) scale(0.955,1)" font-size="7.63" text-anchor="middle" fill="#0c0c0c" >0.86</text>
<text transform="translate(43.30,267.86) scale(0.955,1)" font-size="7.63" text-anchor="end" fill="#0c0c0c" >BLK</text>
<line x1="44.60" y1="265.54" x2="47.45" y2="265.54" stroke="#666" stroke-width="0.6" />
<rect x="47.75" y="270.05" width="26.25" height="9.03" fill="#e8878e" stroke="#7e5a5c" stroke-width="0.65"/>
<text transform="translate(62.20,276.86) scale(0.955,1)" font-size="7.63" text-anchor="middle" fill="#0c0c0c" >0.83</text>
<text transform="translate(43.30,277.00) scale(0.955,1)" font-size="7.63" text-anchor="end" fill="#0c0c0c" >PTGS1</text>
<line x1="44.60" y1="274.56" x2="47.45" y2="274.56" stroke="#666" stroke-width="0.6" />
<rect x="47.75" y="279.07" width="26.25" height="9.03" fill="#e8878e" stroke="#7e5a5c" stroke-width="0.65"/>
<text transform="translate(62.20,285.89) scale(0.955,1)" font-size="7.63" text-anchor="middle" fill="#0c0c0c" >0.83</text>
<text transform="translate(43.30,286.14) scale(0.955,1)" font-size="7.63" text-anchor="end" fill="#0c0c0c" >GZMM</text>
<line x1="44.60" y1="283.59" x2="47.45" y2="283.59" stroke="#666" stroke-width="0.6" />
<rect x="47.75" y="288.10" width="26.25" height="9.03" fill="#e88d94" stroke="#7e5a5c" stroke-width="0.65"/>
<text transform="translate(62.20,294.91) scale(0.955,1)" font-size="7.63" text-anchor="middle" fill="#0c0c0c" >0.82</text>
<text transform="translate(43.30,295.29) scale(0.955,1)" font-size="7.63" text-anchor="end" fill="#0c0c0c" >CD1E</text>
<line x1="44.60" y1="292.61" x2="47.45" y2="292.61" stroke="#666" stroke-width="0.6" />
<rect x="47.75" y="297.12" width="26.25" height="9.03" fill="#e7949b" stroke="#7e5a5c" stroke-width="0.65"/>
<text transform="translate(62.20,303.94) scale(0.955,1)" font-size="7.63" text-anchor="middle" fill="#0c0c0c" >0.81</text>
<text transform="translate(43.30,304.43) scale(0.955,1)" font-size="7.63" text-anchor="end" fill="#0c0c0c" >GPR183</text>
<line x1="44.60" y1="301.64" x2="47.45" y2="301.64" stroke="#666" stroke-width="0.6" />
<rect x="47.75" y="306.15" width="26.25" height="9.03" fill="#e69aa1" stroke="#7e5a5c" stroke-width="0.65"/>
<text transform="translate(62.20,312.96) scale(0.955,1)" font-size="7.63" text-anchor="middle" fill="#0c0c0c" >0.80</text>
<text transform="translate(43.30,313.57) scale(0.955,1)" font-size="7.63" text-anchor="end" fill="#0c0c0c" >Sex</text>
<line x1="44.60" y1="310.66" x2="47.45" y2="310.66" stroke="#666" stroke-width="0.6" />
<rect x="47.75" y="315.18" width="26.25" height="9.03" fill="#e5a0a7" stroke="#7e5a5c" stroke-width="0.65"/>
<text transform="translate(62.20,321.99) scale(0.955,1)" font-size="7.63" text-anchor="middle" fill="#0c0c0c" >0.79</text>
<text transform="translate(43.30,322.71) scale(0.955,1)" font-size="7.63" text-anchor="end" fill="#0c0c0c" >EDNRB</text>
<line x1="44.60" y1="319.69" x2="47.45" y2="319.69" stroke="#666" stroke-width="0.6" />
<rect x="47.75" y="324.20" width="26.25" height="9.03" fill="#e5a0a7" stroke="#7e5a5c" stroke-width="0.65"/>
<text transform="translate(62.20,331.01) scale(0.955,1)" font-size="7.63" text-anchor="middle" fill="#0c0c0c" >0.79</text>
<text transform="translate(43.30,331.85) scale(0.955,1)" font-size="7.63" text-anchor="end" fill="#0c0c0c" >ITGAE</text>
<line x1="44.60" y1="328.71" x2="47.45" y2="328.71" stroke="#666" stroke-width="0.6" />
<rect x="47.75" y="333.23" width="26.25" height="9.03" fill="#e3adb3" stroke="#7e5a5c" stroke-width="0.65"/>
<text transform="translate(62.20,340.04) scale(0.955,1)" font-size="7.63" text-anchor="middle" fill="#0c0c0c" >0.77</text>
<text transform="translate(43.30,341.00) scale(0.955,1)" font-size="7.63" text-anchor="end" fill="#0c0c0c" >PAX5</text>
<line x1="44.60" y1="337.74" x2="47.45" y2="337.74" stroke="#666" stroke-width="0.6" />
<rect x="47.75" y="342.25" width="26.25" height="9.03" fill="#e3adb3" stroke="#7e5a5c" stroke-width="0.65"/>
<text transform="translate(62.20,349.06) scale(0.955,1)" font-size="7.63" text-anchor="middle" fill="#0c0c0c" >0.77</text>
<text transform="translate(43.30,350.14) scale(0.955,1)" font-size="7.63" text-anchor="end" fill="#0c0c0c" >CD40</text>
<line x1="44.60" y1="346.76" x2="47.45" y2="346.76" stroke="#666" stroke-width="0.6" />
<rect x="47.75" y="351.27" width="26.25" height="9.03" fill="#e2b3b8" stroke="#7e5a5c" stroke-width="0.65"/>
<text transform="translate(62.20,358.09) scale(0.955,1)" font-size="7.63" text-anchor="middle" fill="#0c0c0c" >0.76</text>
<text transform="translate(43.30,359.28) scale(0.955,1)" font-size="7.63" text-anchor="end" fill="#0c0c0c" >TNFRSF13C</text>
<line x1="44.60" y1="355.79" x2="47.45" y2="355.79" stroke="#666" stroke-width="0.6" />
<rect x="47.75" y="360.30" width="26.25" height="9.03" fill="#e1b9bd" stroke="#7e5a5c" stroke-width="0.65"/>
<text transform="translate(62.20,367.11) scale(0.955,1)" font-size="7.63" text-anchor="middle" fill="#0c0c0c" >0.75</text>
<text transform="translate(43.30,368.42) scale(0.955,1)" font-size="7.63" text-anchor="end" fill="#0c0c0c" >AKT3</text>
<line x1="44.60" y1="364.81" x2="47.45" y2="364.81" stroke="#666" stroke-width="0.6" />
<rect x="47.75" y="369.33" width="26.25" height="9.03" fill="#e1b9bd" stroke="#7e5a5c" stroke-width="0.65"/>
<text transform="translate(62.20,376.14) scale(0.955,1)" font-size="7.63" text-anchor="middle" fill="#0c0c0c" >0.75</text>
<text transform="translate(43.30,377.56) scale(0.955,1)" font-size="7.63" text-anchor="end" fill="#0c0c0c" >CCL7</text>
<line x1="44.60" y1="373.84" x2="47.45" y2="373.84" stroke="#666" stroke-width="0.6" />
<rect x="47.75" y="378.35" width="26.25" height="9.03" fill="#e0bfc3" stroke="#7e5a5c" stroke-width="0.65"/>
<text transform="translate(62.20,385.16) scale(0.955,1)" font-size="7.63" text-anchor="middle" fill="#0c0c0c" >0.74</text>
<text transform="translate(43.30,386.71) scale(0.955,1)" font-size="7.63" text-anchor="end" fill="#0c0c0c" >C5</text>
<line x1="44.60" y1="382.86" x2="47.45" y2="382.86" stroke="#666" stroke-width="0.6" />
<rect x="47.75" y="387.38" width="26.25" height="9.03" fill="#e0bfc3" stroke="#7e5a5c" stroke-width="0.65"/>
<text transform="translate(62.20,394.19) scale(0.955,1)" font-size="7.63" text-anchor="middle" fill="#0c0c0c" >0.74</text>
<text transform="translate(43.30,395.85) scale(0.955,1)" font-size="7.63" text-anchor="end" fill="#0c0c0c" >USP9Y</text>
<line x1="44.60" y1="391.89" x2="47.45" y2="391.89" stroke="#666" stroke-width="0.6" />
<defs><linearGradient id="gd" x1="0" y1="0" x2="0" y2="1"><stop offset="0.000" stop-color="#fc140a"/><stop offset="0.083" stop-color="#f91f16"/><stop offset="0.167" stop-color="#f63130"/><stop offset="0.250" stop-color="#f2444a"/><stop offset="0.333" stop-color="#ef565d"/><stop offset="0.417" stop-color="#ed686f"/><stop offset="0.500" stop-color="#ea7a82"/><stop offset="0.583" stop-color="#e88a91"/><stop offset="0.667" stop-color="#e69aa1"/><stop offset="0.750" stop-color="#e4aab0"/><stop offset="0.833" stop-color="#e1b9bd"/><stop offset="0.917" stop-color="#dfc7cb"/><stop offset="1.000" stop-color="#dcd6d8"/></linearGradient></defs>
<rect x="76.50" y="215.90" width="8.90" height="181.50" fill="url(#gd)" stroke="#aaa" stroke-width="0.4"/>
<text transform="translate(88.40,218.50) scale(0.955,1)" font-size="7.52" text-anchor="start" fill="#0c0c0c" >1.0</text>
<line x1="76.50" y1="276.40" x2="77.70" y2="276.40" stroke="#555" stroke-width="0.6" />
<line x1="84.20" y1="276.40" x2="85.40" y2="276.40" stroke="#555" stroke-width="0.6" />
<text transform="translate(88.40,279.00) scale(0.955,1)" font-size="7.52" text-anchor="start" fill="#0c0c0c" >0.9</text>
<line x1="76.50" y1="336.90" x2="77.70" y2="336.90" stroke="#555" stroke-width="0.6" />
<line x1="84.20" y1="336.90" x2="85.40" y2="336.90" stroke="#555" stroke-width="0.6" />
<text transform="translate(88.40,339.50) scale(0.955,1)" font-size="7.52" text-anchor="start" fill="#0c0c0c" >0.8</text>
<text transform="translate(88.40,400.00) scale(0.955,1)" font-size="7.52" text-anchor="start" fill="#0c0c0c" >0.7</text>
<text transform="translate(60.88,407.10) scale(0.955,1)" font-size="7.52" text-anchor="middle" fill="#0c0c0c" >Merit</text>
<rect x="233.50" y="215.40" width="26.75" height="9.10" fill="#f4393a" stroke="#7e5a5c" stroke-width="0.65"/>
<text transform="translate(248.30,222.25) scale(0.955,1)" font-size="7.63" text-anchor="middle" fill="#0c0c0c" >0.94</text>
<text transform="translate(229.00,221.75) scale(0.955,1)" font-size="7.63" text-anchor="end" fill="#0c0c0c" >CD207</text>
<line x1="230.30" y1="219.95" x2="233.20" y2="219.95" stroke="#666" stroke-width="0.6" />
<rect x="233.50" y="224.50" width="26.75" height="9.10" fill="#e98088" stroke="#7e5a5c" stroke-width="0.65"/>
<text transform="translate(248.30,231.35) scale(0.955,1)" font-size="7.63" text-anchor="middle" fill="#0c0c0c" >0.84</text>
<text transform="translate(229.00,230.86) scale(0.955,1)" font-size="7.63" text-anchor="end" fill="#0c0c0c" >GNAS</text>
<line x1="230.30" y1="229.05" x2="233.20" y2="229.05" stroke="#666" stroke-width="0.6" />
<rect x="233.50" y="233.60" width="26.75" height="9.10" fill="#e88d94" stroke="#7e5a5c" stroke-width="0.65"/>
<text transform="translate(248.30,240.45) scale(0.955,1)" font-size="7.63" text-anchor="middle" fill="#0c0c0c" >0.82</text>
<text transform="translate(229.00,239.97) scale(0.955,1)" font-size="7.63" text-anchor="end" fill="#0c0c0c" >C8B</text>
<line x1="230.30" y1="238.15" x2="233.20" y2="238.15" stroke="#666" stroke-width="0.6" />
<rect x="233.50" y="242.70" width="26.75" height="9.10" fill="#e3adb3" stroke="#7e5a5c" stroke-width="0.65"/>
<text transform="translate(248.30,249.55) scale(0.955,1)" font-size="7.63" text-anchor="middle" fill="#0c0c0c" >0.77</text>
<text transform="translate(229.00,249.08) scale(0.955,1)" font-size="7.63" text-anchor="end" fill="#0c0c0c" >ABCB1</text>
<line x1="230.30" y1="247.25" x2="233.20" y2="247.25" stroke="#666" stroke-width="0.6" />
<rect x="233.50" y="251.80" width="26.75" height="9.10" fill="#e2b3b8" stroke="#7e5a5c" stroke-width="0.65"/>
<text transform="translate(248.30,258.65) scale(0.955,1)" font-size="7.63" text-anchor="middle" fill="#0c0c0c" >0.76</text>
<text transform="translate(229.00,258.19) scale(0.955,1)" font-size="7.63" text-anchor="end" fill="#0c0c0c" >SRC</text>
<line x1="230.30" y1="256.35" x2="233.20" y2="256.35" stroke="#666" stroke-width="0.6" />
<rect x="233.50" y="260.90" width="26.75" height="9.10" fill="#e2b3b8" stroke="#7e5a5c" stroke-width="0.65"/>
<text transform="translate(248.30,267.75) scale(0.955,1)" font-size="7.63" text-anchor="middle" fill="#0c0c0c" >0.76</text>
<text transform="translate(229.00,267.30) scale(0.955,1)" font-size="7.63" text-anchor="end" fill="#0c0c0c" >HLA-DPB1</text>
<line x1="230.30" y1="265.45" x2="233.20" y2="265.45" stroke="#666" stroke-width="0.6" />
<rect x="233.50" y="270.00" width="26.75" height="9.10" fill="#e0bfc3" stroke="#7e5a5c" stroke-width="0.65"/>
<text transform="translate(248.30,276.85) scale(0.955,1)" font-size="7.63" text-anchor="middle" fill="#0c0c0c" >0.74</text>
<text transform="translate(229.00,276.41) scale(0.955,1)" font-size="7.63" text-anchor="end" fill="#0c0c0c" >CCL5</text>
<line x1="230.30" y1="274.55" x2="233.20" y2="274.55" stroke="#666" stroke-width="0.6" />
<rect x="233.50" y="279.10" width="26.75" height="9.10" fill="#decacd" stroke="#7e5a5c" stroke-width="0.65"/>
<text transform="translate(248.30,285.95) scale(0.955,1)" font-size="7.63" text-anchor="middle" fill="#0c0c0c" >0.72</text>
<text transform="translate(229.00,285.52) scale(0.955,1)" font-size="7.63" text-anchor="end" fill="#0c0c0c" >CSF1</text>
<line x1="230.30" y1="283.65" x2="233.20" y2="283.65" stroke="#666" stroke-width="0.6" />
<rect x="233.50" y="288.20" width="26.75" height="9.10" fill="#dfc4c8" stroke="#7e5a5c" stroke-width="0.65"/>
<text transform="translate(248.30,295.05) scale(0.955,1)" font-size="7.63" text-anchor="middle" fill="#0c0c0c" >0.73</text>
<text transform="translate(229.00,294.63) scale(0.955,1)" font-size="7.63" text-anchor="end" fill="#0c0c0c" >CCR4</text>
<line x1="230.30" y1="292.75" x2="233.20" y2="292.75" stroke="#666" stroke-width="0.6" />
<rect x="233.50" y="297.30" width="26.75" height="9.10" fill="#decacd" stroke="#7e5a5c" stroke-width="0.65"/>
<text transform="translate(248.30,304.15) scale(0.955,1)" font-size="7.63" text-anchor="middle" fill="#0c0c0c" >0.72</text>
<text transform="translate(229.00,303.74) scale(0.955,1)" font-size="7.63" text-anchor="end" fill="#0c0c0c" >USP9Y</text>
<line x1="230.30" y1="301.85" x2="233.20" y2="301.85" stroke="#666" stroke-width="0.6" />
<rect x="233.50" y="306.40" width="26.75" height="9.10" fill="#dfc4c8" stroke="#7e5a5c" stroke-width="0.65"/>
<text transform="translate(248.30,313.25) scale(0.955,1)" font-size="7.63" text-anchor="middle" fill="#0c0c0c" >0.73</text>
<text transform="translate(229.00,312.85) scale(0.955,1)" font-size="7.63" text-anchor="end" fill="#0c0c0c" >PDGFB</text>
<line x1="230.30" y1="310.95" x2="233.20" y2="310.95" stroke="#666" stroke-width="0.6" />
<rect x="233.50" y="315.50" width="26.75" height="9.10" fill="#ddd0d3" stroke="#7e5a5c" stroke-width="0.65"/>
<text transform="translate(248.30,322.35) scale(0.955,1)" font-size="7.63" text-anchor="middle" fill="#0c0c0c" >0.71</text>
<text transform="translate(229.00,321.96) scale(0.955,1)" font-size="7.63" text-anchor="end" fill="#0c0c0c" >DUSP4</text>
<line x1="230.30" y1="320.05" x2="233.20" y2="320.05" stroke="#666" stroke-width="0.6" />
<rect x="233.50" y="324.60" width="26.75" height="9.10" fill="#ddd0d3" stroke="#7e5a5c" stroke-width="0.65"/>
<text transform="translate(248.30,331.45) scale(0.955,1)" font-size="7.63" text-anchor="middle" fill="#0c0c0c" >0.71</text>
<text transform="translate(229.00,331.07) scale(0.955,1)" font-size="7.63" text-anchor="end" fill="#0c0c0c" >CXCR3</text>
<line x1="230.30" y1="329.15" x2="233.20" y2="329.15" stroke="#666" stroke-width="0.6" />
<rect x="233.50" y="333.70" width="26.75" height="9.10" fill="#ffffff" stroke="#7a7a7a" stroke-width="0.65"/>
<text transform="translate(248.30,340.55) scale(0.955,1)" font-size="7.63" text-anchor="middle" fill="#0c0c0c" >0.69</text>
<text transform="translate(229.00,340.18) scale(0.955,1)" font-size="7.63" text-anchor="end" fill="#0c0c0c" >IRF8</text>
<line x1="230.30" y1="338.25" x2="233.20" y2="338.25" stroke="#666" stroke-width="0.6" />
<rect x="233.50" y="342.80" width="26.75" height="9.10" fill="#ffffff" stroke="#7a7a7a" stroke-width="0.65"/>
<text transform="translate(248.30,349.65) scale(0.955,1)" font-size="7.63" text-anchor="middle" fill="#0c0c0c" >0.69</text>
<text transform="translate(229.00,349.29) scale(0.955,1)" font-size="7.63" text-anchor="end" fill="#0c0c0c" >THBS1</text>
<line x1="230.30" y1="347.35" x2="233.20" y2="347.35" stroke="#666" stroke-width="0.6" />
<rect x="233.50" y="351.90" width="26.75" height="9.10" fill="#ffffff" stroke="#7a7a7a" stroke-width="0.65"/>
<text transform="translate(248.30,358.75) scale(0.955,1)" font-size="7.63" text-anchor="middle" fill="#0c0c0c" >0.68</text>
<text transform="translate(229.00,358.40) scale(0.955,1)" font-size="7.63" text-anchor="end" fill="#0c0c0c" >TNFRSF4</text>
<line x1="230.30" y1="356.45" x2="233.20" y2="356.45" stroke="#666" stroke-width="0.6" />
<rect x="233.50" y="361.00" width="26.75" height="9.10" fill="#ffffff" stroke="#7a7a7a" stroke-width="0.65"/>
<text transform="translate(248.30,367.85) scale(0.955,1)" font-size="7.63" text-anchor="middle" fill="#0c0c0c" >0.66</text>
<text transform="translate(229.00,367.51) scale(0.955,1)" font-size="7.63" text-anchor="end" fill="#0c0c0c" >Exh CD8</text>
<line x1="230.30" y1="365.55" x2="233.20" y2="365.55" stroke="#666" stroke-width="0.6" />
<rect x="233.50" y="370.10" width="26.75" height="9.10" fill="#ffffff" stroke="#7a7a7a" stroke-width="0.65"/>
<text transform="translate(248.30,376.95) scale(0.955,1)" font-size="7.63" text-anchor="middle" fill="#0c0c0c" >0.65</text>
<text transform="translate(229.00,376.62) scale(0.955,1)" font-size="7.63" text-anchor="end" fill="#0c0c0c" >Th1 cells</text>
<line x1="230.30" y1="374.65" x2="233.20" y2="374.65" stroke="#666" stroke-width="0.6" />
<rect x="233.50" y="379.20" width="26.75" height="9.10" fill="#ffffff" stroke="#7a7a7a" stroke-width="0.65"/>
<text transform="translate(248.30,386.05) scale(0.955,1)" font-size="7.63" text-anchor="middle" fill="#0c0c0c" >0.63</text>
<text transform="translate(229.00,385.73) scale(0.955,1)" font-size="7.63" text-anchor="end" fill="#0c0c0c" >IRF4</text>
<line x1="230.30" y1="383.75" x2="233.20" y2="383.75" stroke="#666" stroke-width="0.6" />
<rect x="233.50" y="388.30" width="26.75" height="9.10" fill="#ffffff" stroke="#7a7a7a" stroke-width="0.65"/>
<text transform="translate(248.30,395.15) scale(0.955,1)" font-size="7.63" text-anchor="middle" fill="#0c0c0c" >0.63</text>
<text transform="translate(229.00,394.84) scale(0.955,1)" font-size="7.63" text-anchor="end" fill="#0c0c0c" >CDKN1A</text>
<line x1="230.30" y1="392.85" x2="233.20" y2="392.85" stroke="#666" stroke-width="0.6" />
<defs><linearGradient id="ge" x1="0" y1="0" x2="0" y2="1"><stop offset="0.000" stop-color="#fc140a"/><stop offset="0.083" stop-color="#f91f16"/><stop offset="0.167" stop-color="#f63130"/><stop offset="0.250" stop-color="#f2444a"/><stop offset="0.333" stop-color="#ef565d"/><stop offset="0.417" stop-color="#ed686f"/><stop offset="0.500" stop-color="#ea7a82"/><stop offset="0.583" stop-color="#e88a91"/><stop offset="0.667" stop-color="#e69aa1"/><stop offset="0.750" stop-color="#e4aab0"/><stop offset="0.833" stop-color="#e1b9bd"/><stop offset="0.917" stop-color="#dfc7cb"/><stop offset="1.000" stop-color="#dcd6d8"/></linearGradient></defs>
<rect x="263.10" y="215.40" width="8.40" height="182.00" fill="url(#ge)" stroke="#aaa" stroke-width="0.4"/>
<text transform="translate(274.50,218.00) scale(0.955,1)" font-size="7.52" text-anchor="start" fill="#0c0c0c" >1.0</text>
<line x1="263.10" y1="276.07" x2="264.30" y2="276.07" stroke="#555" stroke-width="0.6" />
<line x1="270.30" y1="276.07" x2="271.50" y2="276.07" stroke="#555" stroke-width="0.6" />
<text transform="translate(274.50,278.67) scale(0.955,1)" font-size="7.52" text-anchor="start" fill="#0c0c0c" >0.9</text>
<line x1="263.10" y1="336.73" x2="264.30" y2="336.73" stroke="#555" stroke-width="0.6" />
<line x1="270.30" y1="336.73" x2="271.50" y2="336.73" stroke="#555" stroke-width="0.6" />
<text transform="translate(274.50,339.33) scale(0.955,1)" font-size="7.52" text-anchor="start" fill="#0c0c0c" >0.8</text>
<text transform="translate(274.50,400.00) scale(0.955,1)" font-size="7.52" text-anchor="start" fill="#0c0c0c" >0.7</text>
<text transform="translate(246.88,407.10) scale(0.955,1)" font-size="7.52" text-anchor="middle" fill="#0c0c0c" >Merit</text>
<defs><clipPath id="cp1"><rect x="124.60" y="217.20" width="45.90" height="65.40"/></clipPath></defs>
<g clip-path="url(#cp1)">
<polygon points="129.00,271.32 129.91,270.59 130.82,269.85 131.74,269.11 132.65,268.35 133.56,267.58 134.47,266.79 135.39,266.00 136.30,265.18 137.21,264.35 138.12,263.50 139.04,262.62 139.95,261.73 140.86,260.81 141.78,259.87 142.69,258.91 143.60,257.92 144.51,256.91 145.43,255.88 146.34,254.83 147.25,253.76 148.16,252.68 149.07,251.58 149.99,250.46 150.90,249.34 151.81,248.20 152.72,247.05 153.64,245.89 154.55,244.72 155.46,243.55 156.38,242.36 157.29,241.18 158.20,239.98 159.11,238.79 160.03,237.58 160.94,236.38 161.85,235.17 162.76,233.96 163.68,232.74 164.59,231.52 165.50,230.30 165.50,248.70 164.59,249.37 163.68,250.04 162.76,250.71 161.85,251.39 160.94,252.07 160.03,252.76 159.11,253.44 158.20,254.14 157.29,254.83 156.38,255.54 155.46,256.24 154.55,256.96 153.64,257.68 152.72,258.41 151.81,259.15 150.90,259.90 149.99,260.67 149.07,261.44 148.16,262.23 147.25,263.04 146.34,263.86 145.43,264.70 144.51,265.56 143.60,266.44 142.69,267.34 141.78,268.27 140.86,269.22 139.95,270.19 139.04,271.19 138.12,272.20 137.21,273.24 136.30,274.30 135.39,275.37 134.47,276.47 133.56,277.57 132.65,278.69 131.74,279.82 130.82,280.97 129.91,282.12 129.00,283.28" fill="#e4e4e4" stroke="none"/>
<polyline points="129.00,271.32 129.91,270.59 130.82,269.85 131.74,269.11 132.65,268.35 133.56,267.58 134.47,266.79 135.39,266.00 136.30,265.18 137.21,264.35 138.12,263.50 139.04,262.62 139.95,261.73 140.86,260.81 141.78,259.87 142.69,258.91 143.60,257.92 144.51,256.91 145.43,255.88 146.34,254.83 147.25,253.76 148.16,252.68 149.07,251.58 149.99,250.46 150.90,249.34 151.81,248.20 152.72,247.05 153.64,245.89 154.55,244.72 155.46,243.55 156.38,242.36 157.29,241.18 158.20,239.98 159.11,238.79 160.03,237.58 160.94,236.38 161.85,235.17 162.76,233.96 163.68,232.74 164.59,231.52 165.50,230.30" fill="none" stroke="#4a4a4a" stroke-width="0.55"/>
<polyline points="129.00,283.28 129.91,282.12 130.82,280.97 131.74,279.82 132.65,278.69 133.56,277.57 134.47,276.47 135.39,275.37 136.30,274.30 137.21,273.24 138.12,272.20 139.04,271.19 139.95,270.19 140.86,269.22 141.78,268.27 142.69,267.34 143.60,266.44 144.51,265.56 145.43,264.70 146.34,263.86 147.25,263.04 148.16,262.23 149.07,261.44 149.99,260.67 150.90,259.90 151.81,259.15 152.72,258.41 153.64,257.68 154.55,256.96 155.46,256.24 156.38,255.54 157.29,254.83 158.20,254.14 159.11,253.44 160.03,252.76 160.94,252.07 161.85,251.39 162.76,250.71 163.68,250.04 164.59,249.37 165.50,248.70" fill="none" stroke="#4a4a4a" stroke-width="0.55"/>
<line x1="129.00" y1="277.30" x2="165.50" y2="239.50" stroke="#3a3a3a" stroke-width="0.6" />
</g>
<line x1="124.60" y1="217.20" x2="124.60" y2="282.60" stroke="#333" stroke-width="0.8" />
<line x1="124.60" y1="282.60" x2="168.50" y2="282.60" stroke="#333" stroke-width="0.8" />
<line x1="122.60" y1="282.60" x2="124.60" y2="282.60" stroke="#333" stroke-width="0.8" />
<text transform="translate(121.00,285.10) scale(0.955,1)" font-size="7.52" text-anchor="end" fill="#0c0c0c" >0</text>
<line x1="122.60" y1="266.25" x2="124.60" y2="266.25" stroke="#333" stroke-width="0.8" />
<text transform="translate(121.00,268.75) scale(0.955,1)" font-size="7.52" text-anchor="end" fill="#0c0c0c" >1</text>
<line x1="122.60" y1="249.90" x2="124.60" y2="249.90" stroke="#333" stroke-width="0.8" />
<text transform="translate(121.00,252.40) scale(0.955,1)" font-size="7.52" text-anchor="end" fill="#0c0c0c" >2</text>
<line x1="122.60" y1="233.55" x2="124.60" y2="233.55" stroke="#333" stroke-width="0.8" />
<text transform="translate(121.00,236.05) scale(0.955,1)" font-size="7.52" text-anchor="end" fill="#0c0c0c" >3</text>
<line x1="122.60" y1="217.20" x2="124.60" y2="217.20" stroke="#333" stroke-width="0.8" />
<text transform="translate(121.00,219.70) scale(0.955,1)" font-size="7.52" text-anchor="end" fill="#0c0c0c" >4</text>
<line x1="124.60" y1="282.60" x2="124.60" y2="284.60" stroke="#333" stroke-width="0.8" />
<text transform="translate(124.60,291.80) scale(0.955,1)" font-size="7.52" text-anchor="middle" fill="#0c0c0c" >0</text>
<line x1="138.95" y1="282.60" x2="138.95" y2="284.60" stroke="#333" stroke-width="0.8" />
<text transform="translate(138.95,291.80) scale(0.955,1)" font-size="7.52" text-anchor="middle" fill="#0c0c0c" >1</text>
<line x1="153.30" y1="282.60" x2="153.30" y2="284.60" stroke="#333" stroke-width="0.8" />
<text transform="translate(153.30,291.80) scale(0.955,1)" font-size="7.52" text-anchor="middle" fill="#0c0c0c" >2</text>
<line x1="167.65" y1="282.60" x2="167.65" y2="284.60" stroke="#333" stroke-width="0.8" />
<text transform="translate(167.65,291.80) scale(0.955,1)" font-size="7.52" text-anchor="middle" fill="#0c0c0c" >3</text>
<circle cx="129.30" cy="277.30" r="1.55" fill="#8e8ef2" stroke="#5050c4" stroke-width="0.5"/>
<circle cx="130.30" cy="274.60" r="1.55" fill="#8e8ef2" stroke="#5050c4" stroke-width="0.5"/>
<circle cx="134.00" cy="274.10" r="1.55" fill="#8e8ef2" stroke="#5050c4" stroke-width="0.5"/>
<circle cx="141.60" cy="259.60" r="1.55" fill="#8e8ef2" stroke="#5050c4" stroke-width="0.5"/>
<circle cx="148.50" cy="261.30" r="1.55" fill="#8e8ef2" stroke="#5050c4" stroke-width="0.5"/>
<circle cx="165.30" cy="234.90" r="1.55" fill="#8e8ef2" stroke="#5050c4" stroke-width="0.5"/>
<text transform="translate(126.90,211.90) scale(0.955,1)" font-size="7.31" text-anchor="start" fill="#0c0c0c" >R=0.98</text>
<text transform="translate(126.90,219.30) scale(0.955,1)" font-size="7.31" fill="#0c0c0c">p=0.0008</text>
<text transform="translate(146.30,300.20) scale(0.955,1)" font-size="7.52" text-anchor="middle" fill="#0c0c0c" >FASLG</text>
<text transform="translate(145.30,309.00) scale(0.955,1)" font-size="7.52" text-anchor="middle" fill="#0c0c0c">(x10<tspan font-size="4.81" dy="-2.6">3</tspan><tspan dy="2.6"> norm exp)</tspan></text>
<text transform="translate(113.20,247.80) rotate(-90) scale(0.955,1)" font-size="7.52" text-anchor="middle" fill="#0c0c0c">NAb titres (x10<tspan font-size="4.81" dy="-2.6">3</tspan><tspan dy="2.6">)</tspan></text>
<defs><clipPath id="cp2"><rect x="124.20" y="329.80" width="45.60" height="64.70"/></clipPath></defs>
<g clip-path="url(#cp2)">
<polygon points="128.60,371.97 129.45,371.26 130.31,370.53 131.16,369.78 132.01,369.00 132.86,368.19 133.72,367.35 134.57,366.47 135.42,365.55 136.27,364.59 137.12,363.59 137.98,362.53 138.83,361.42 139.68,360.26 140.53,359.04 141.39,357.76 142.24,356.42 143.09,355.02 143.94,353.57 144.80,352.07 145.65,350.51 146.50,348.91 147.35,347.27 148.21,345.58 149.06,343.86 149.91,342.11 150.76,340.33 151.62,338.52 152.47,336.68 153.32,334.83 154.17,332.95 155.03,331.06 155.88,329.16 156.73,327.24 157.58,325.30 158.44,323.36 159.29,321.40 160.14,319.44 161.00,317.47 161.85,315.49 162.70,313.50 162.70,360.10 161.85,360.68 161.00,361.26 160.14,361.85 159.29,362.46 158.44,363.07 157.58,363.69 156.73,364.32 155.88,364.96 155.03,365.62 154.17,366.30 153.32,366.99 152.47,367.70 151.62,368.43 150.76,369.18 149.91,369.97 149.06,370.78 148.21,371.62 147.35,372.50 146.50,373.42 145.65,374.39 144.80,375.40 143.94,376.46 143.09,377.57 142.24,378.74 141.39,379.97 140.53,381.25 139.68,382.60 138.83,384.00 137.98,385.45 137.12,386.96 136.27,388.52 135.42,390.13 134.57,391.77 133.72,393.46 132.86,395.19 132.01,396.94 131.16,398.73 130.31,400.54 129.45,402.38 128.60,404.23" fill="#e4e4e4" stroke="none"/>
<polyline points="128.60,371.97 129.45,371.26 130.31,370.53 131.16,369.78 132.01,369.00 132.86,368.19 133.72,367.35 134.57,366.47 135.42,365.55 136.27,364.59 137.12,363.59 137.98,362.53 138.83,361.42 139.68,360.26 140.53,359.04 141.39,357.76 142.24,356.42 143.09,355.02 143.94,353.57 144.80,352.07 145.65,350.51 146.50,348.91 147.35,347.27 148.21,345.58 149.06,343.86 149.91,342.11 150.76,340.33 151.62,338.52 152.47,336.68 153.32,334.83 154.17,332.95 155.03,331.06 155.88,329.16 156.73,327.24 157.58,325.30 158.44,323.36 159.29,321.40 160.14,319.44 161.00,317.47 161.85,315.49 162.70,313.50" fill="none" stroke="#4a4a4a" stroke-width="0.55"/>
<polyline points="128.60,404.23 129.45,402.38 130.31,400.54 131.16,398.73 132.01,396.94 132.86,395.19 133.72,393.46 134.57,391.77 135.42,390.13 136.27,388.52 137.12,386.96 137.98,385.45 138.83,384.00 139.68,382.60 140.53,381.25 141.39,379.97 142.24,378.74 143.09,377.57 143.94,376.46 144.80,375.40 145.65,374.39 146.50,373.42 147.35,372.50 148.21,371.62 149.06,370.78 149.91,369.97 150.76,369.18 151.62,368.43 152.47,367.70 153.32,366.99 154.17,366.30 155.03,365.62 155.88,364.96 156.73,364.32 157.58,363.69 158.44,363.07 159.29,362.46 160.14,361.85 161.00,361.26 161.85,360.68 162.70,360.10" fill="none" stroke="#4a4a4a" stroke-width="0.55"/>
<line x1="128.60" y1="388.10" x2="162.70" y2="336.80" stroke="#3a3a3a" stroke-width="0.6" />
</g>
<line x1="124.20" y1="329.80" x2="124.20" y2="394.50" stroke="#333" stroke-width="0.8" />
<line x1="124.20" y1="394.50" x2="167.80" y2="394.50" stroke="#333" stroke-width="0.8" />
<line x1="122.20" y1="394.50" x2="124.20" y2="394.50" stroke="#333" stroke-width="0.8" />
<text transform="translate(120.60,397.00) scale(0.955,1)" font-size="7.52" text-anchor="end" fill="#0c0c0c" >0</text>
<line x1="122.20" y1="373.00" x2="124.20" y2="373.00" stroke="#333" stroke-width="0.8" />
<text transform="translate(120.60,375.50) scale(0.955,1)" font-size="7.52" text-anchor="end" fill="#0c0c0c" >1</text>
<line x1="122.20" y1="351.50" x2="124.20" y2="351.50" stroke="#333" stroke-width="0.8" />
<text transform="translate(120.60,354.00) scale(0.955,1)" font-size="7.52" text-anchor="end" fill="#0c0c0c" >2</text>
<line x1="122.20" y1="330.00" x2="124.20" y2="330.00" stroke="#333" stroke-width="0.8" />
<text transform="translate(120.60,332.50) scale(0.955,1)" font-size="7.52" text-anchor="end" fill="#0c0c0c" >3</text>
<line x1="124.20" y1="394.50" x2="124.20" y2="396.50" stroke="#333" stroke-width="0.8" />
<text transform="translate(124.20,403.70) scale(0.955,1)" font-size="7.52" text-anchor="middle" fill="#0c0c0c" >0</text>
<line x1="138.63" y1="394.50" x2="138.63" y2="396.50" stroke="#333" stroke-width="0.8" />
<text transform="translate(138.63,403.70) scale(0.955,1)" font-size="7.52" text-anchor="middle" fill="#0c0c0c" >1</text>
<line x1="153.06" y1="394.50" x2="153.06" y2="396.50" stroke="#333" stroke-width="0.8" />
<text transform="translate(153.06,403.70) scale(0.955,1)" font-size="7.52" text-anchor="middle" fill="#0c0c0c" >2</text>
<line x1="167.49" y1="394.50" x2="167.49" y2="396.50" stroke="#333" stroke-width="0.8" />
<text transform="translate(167.49,403.70) scale(0.955,1)" font-size="7.52" text-anchor="middle" fill="#0c0c0c" >3</text>
<circle cx="128.60" cy="387.40" r="1.55" fill="#8e8ef2" stroke="#5050c4" stroke-width="0.5"/>
<circle cx="132.30" cy="384.10" r="1.55" fill="#8e8ef2" stroke="#5050c4" stroke-width="0.5"/>
<circle cx="134.30" cy="366.20" r="1.55" fill="#8e8ef2" stroke="#5050c4" stroke-width="0.5"/>
<circle cx="138.30" cy="383.50" r="1.55" fill="#8e8ef2" stroke="#5050c4" stroke-width="0.5"/>
<circle cx="149.70" cy="364.60" r="1.55" fill="#8e8ef2" stroke="#5050c4" stroke-width="0.5"/>
<circle cx="162.70" cy="330.90" r="1.55" fill="#8e8ef2" stroke="#5050c4" stroke-width="0.5"/>
<text transform="translate(126.50,323.10) scale(0.955,1)" font-size="7.31" text-anchor="start" fill="#0c0c0c" >R=0.91</text>
<text transform="translate(126.50,330.50) scale(0.955,1)" font-size="7.31" fill="#0c0c0c">p=0.0011</text>
<text transform="translate(146.30,411.70) scale(0.955,1)" font-size="7.52" text-anchor="middle" fill="#0c0c0c" >TNFRSF17</text>
<text transform="translate(145.30,420.50) scale(0.955,1)" font-size="7.52" text-anchor="middle" fill="#0c0c0c">(x10<tspan font-size="4.81" dy="-2.6">3</tspan><tspan dy="2.6"> norm exp)</tspan></text>
<text transform="translate(113.20,361.20) rotate(-90) scale(0.955,1)" font-size="7.52" text-anchor="middle" fill="#0c0c0c">NAb titres (x10<tspan font-size="4.81" dy="-2.6">3</tspan><tspan dy="2.6">)</tspan></text>
<defs><clipPath id="cp3"><rect x="308.20" y="217.80" width="42.80" height="62.80"/></clipPath></defs>
<g clip-path="url(#cp3)">
<polygon points="315.00,260.31 315.67,259.29 316.33,258.25 317.00,257.19 317.67,256.12 318.34,255.01 319.00,253.89 319.67,252.74 320.34,251.57 321.01,250.36 321.68,249.14 322.34,247.88 323.01,246.60 323.68,245.29 324.34,243.96 325.01,242.61 325.68,241.24 326.35,239.84 327.01,238.43 327.68,237.01 328.35,235.57 329.02,234.12 329.69,232.65 330.35,231.18 331.02,229.70 331.69,228.21 332.36,226.71 333.02,225.21 333.69,223.69 334.36,222.18 335.02,220.66 335.69,219.13 336.36,217.60 337.03,216.07 337.69,214.53 338.36,213.00 339.03,211.45 339.70,209.91 340.37,208.36 341.03,206.82 341.70,205.27 341.70,230.13 341.03,231.01 340.37,231.90 339.70,232.78 339.03,233.67 338.36,234.55 337.69,235.45 337.03,236.34 336.36,237.24 335.69,238.14 335.02,239.04 334.36,239.95 333.69,240.87 333.02,241.78 332.36,242.71 331.69,243.64 331.02,244.58 330.35,245.53 329.69,246.49 329.02,247.45 328.35,248.43 327.68,249.42 327.01,250.43 326.35,251.45 325.68,252.48 325.01,253.54 324.34,254.62 323.68,255.72 323.01,256.84 322.34,257.99 321.68,259.16 321.01,260.37 320.34,261.59 319.67,262.85 319.00,264.13 318.34,265.44 317.67,266.76 317.00,268.12 316.33,269.49 315.67,270.88 315.00,272.29" fill="#e4e4e4" stroke="none"/>
<polyline points="315.00,260.31 315.67,259.29 316.33,258.25 317.00,257.19 317.67,256.12 318.34,255.01 319.00,253.89 319.67,252.74 320.34,251.57 321.01,250.36 321.68,249.14 322.34,247.88 323.01,246.60 323.68,245.29 324.34,243.96 325.01,242.61 325.68,241.24 326.35,239.84 327.01,238.43 327.68,237.01 328.35,235.57 329.02,234.12 329.69,232.65 330.35,231.18 331.02,229.70 331.69,228.21 332.36,226.71 333.02,225.21 333.69,223.69 334.36,222.18 335.02,220.66 335.69,219.13 336.36,217.60 337.03,216.07 337.69,214.53 338.36,213.00 339.03,211.45 339.70,209.91 340.37,208.36 341.03,206.82 341.70,205.27" fill="none" stroke="#4a4a4a" stroke-width="0.55"/>
<polyline points="315.00,272.29 315.67,270.88 316.33,269.49 317.00,268.12 317.67,266.76 318.34,265.44 319.00,264.13 319.67,262.85 320.34,261.59 321.01,260.37 321.68,259.16 322.34,257.99 323.01,256.84 323.68,255.72 324.34,254.62 325.01,253.54 325.68,252.48 326.35,251.45 327.01,250.43 327.68,249.42 328.35,248.43 329.02,247.45 329.69,246.49 330.35,245.53 331.02,244.58 331.69,243.64 332.36,242.71 333.02,241.78 333.69,240.87 334.36,239.95 335.02,239.04 335.69,238.14 336.36,237.24 337.03,236.34 337.69,235.45 338.36,234.55 339.03,233.67 339.70,232.78 340.37,231.90 341.03,231.01 341.70,230.13" fill="none" stroke="#4a4a4a" stroke-width="0.55"/>
<line x1="315.00" y1="266.30" x2="341.70" y2="217.70" stroke="#3a3a3a" stroke-width="0.6" />
</g>
<line x1="308.20" y1="217.80" x2="308.20" y2="280.60" stroke="#333" stroke-width="0.8" />
<line x1="308.20" y1="280.60" x2="349.00" y2="280.60" stroke="#333" stroke-width="0.8" />
<line x1="306.20" y1="280.60" x2="308.20" y2="280.60" stroke="#333" stroke-width="0.8" />
<text transform="translate(304.50,283.10) scale(0.955,1)" font-size="7.52" text-anchor="end" fill="#0c0c0c" >0</text>
<line x1="306.20" y1="264.90" x2="308.20" y2="264.90" stroke="#333" stroke-width="0.8" />
<text transform="translate(304.50,267.40) scale(0.955,1)" font-size="7.52" text-anchor="end" fill="#0c0c0c" >2</text>
<line x1="306.20" y1="249.20" x2="308.20" y2="249.20" stroke="#333" stroke-width="0.8" />
<text transform="translate(304.50,251.70) scale(0.955,1)" font-size="7.52" text-anchor="end" fill="#0c0c0c" >4</text>
<line x1="306.20" y1="233.50" x2="308.20" y2="233.50" stroke="#333" stroke-width="0.8" />
<text transform="translate(304.50,236.00) scale(0.955,1)" font-size="7.52" text-anchor="end" fill="#0c0c0c" >6</text>
<line x1="306.20" y1="217.80" x2="308.20" y2="217.80" stroke="#333" stroke-width="0.8" />
<text transform="translate(304.50,220.30) scale(0.955,1)" font-size="7.52" text-anchor="end" fill="#0c0c0c" >8</text>
<line x1="308.20" y1="280.60" x2="308.20" y2="282.60" stroke="#333" stroke-width="0.8" />
<text transform="translate(308.20,289.80) scale(0.955,1)" font-size="7.52" text-anchor="middle" fill="#0c0c0c" >0</text>
<line x1="316.30" y1="280.60" x2="316.30" y2="282.60" stroke="#333" stroke-width="0.8" />
<text transform="translate(316.30,289.80) scale(0.955,1)" font-size="7.52" text-anchor="middle" fill="#0c0c0c" >2</text>
<line x1="324.40" y1="280.60" x2="324.40" y2="282.60" stroke="#333" stroke-width="0.8" />
<text transform="translate(324.40,289.80) scale(0.955,1)" font-size="7.52" text-anchor="middle" fill="#0c0c0c" >4</text>
<line x1="332.50" y1="280.60" x2="332.50" y2="282.60" stroke="#333" stroke-width="0.8" />
<text transform="translate(332.50,289.80) scale(0.955,1)" font-size="7.52" text-anchor="middle" fill="#0c0c0c" >6</text>
<line x1="340.60" y1="280.60" x2="340.60" y2="282.60" stroke="#333" stroke-width="0.8" />
<text transform="translate(340.60,289.80) scale(0.955,1)" font-size="7.52" text-anchor="middle" fill="#0c0c0c" >8</text>
<line x1="348.70" y1="280.60" x2="348.70" y2="282.60" stroke="#333" stroke-width="0.8" />
<text transform="translate(348.70,289.80) scale(0.955,1)" font-size="7.52" text-anchor="middle" fill="#0c0c0c" >10</text>
<circle cx="315.00" cy="268.90" r="1.55" fill="#8e8ef2" stroke="#5050c4" stroke-width="0.5"/>
<circle cx="316.20" cy="268.90" r="1.55" fill="#8e8ef2" stroke="#5050c4" stroke-width="0.5"/>
<circle cx="321.40" cy="246.60" r="1.55" fill="#8e8ef2" stroke="#5050c4" stroke-width="0.5"/>
<circle cx="324.30" cy="236.50" r="1.55" fill="#8e8ef2" stroke="#5050c4" stroke-width="0.5"/>
<circle cx="332.10" cy="232.90" r="1.55" fill="#8e8ef2" stroke="#5050c4" stroke-width="0.5"/>
<circle cx="341.80" cy="225.10" r="1.55" fill="#8e8ef2" stroke="#5050c4" stroke-width="0.5"/>
<text transform="translate(310.50,210.30) scale(0.955,1)" font-size="7.31" text-anchor="start" fill="#0c0c0c" >R=0.94</text>
<text transform="translate(310.50,217.70) scale(0.955,1)" font-size="7.31" fill="#0c0c0c">p=7x10<tspan font-size="4.81" dy="-2.6">-5</tspan></text>
<text transform="translate(328.20,297.50) scale(0.955,1)" font-size="7.52" text-anchor="middle" fill="#0c0c0c" >CD207</text>
<text transform="translate(327.20,306.30) scale(0.955,1)" font-size="7.52" text-anchor="middle" fill="#0c0c0c">(x10<tspan font-size="4.81" dy="-2.6">3</tspan><tspan dy="2.6"> norm exp)</tspan></text>
<text transform="translate(296.20,244.40) rotate(-90) scale(0.955,1)" font-size="7.52" text-anchor="middle" fill="#0c0c0c">VL day 60 (Log<tspan font-size="4.81" dy="1.6">10</tspan><tspan dy="-1.6">)</tspan></text>
<defs><clipPath id="cp4"><rect x="307.40" y="329.80" width="45.00" height="62.50"/></clipPath></defs>
<g clip-path="url(#cp4)">
<polygon points="312.20,366.43 312.88,366.13 313.56,365.82 314.24,365.50 314.92,365.16 315.60,364.81 316.28,364.43 316.96,364.03 317.64,363.61 318.32,363.16 319.00,362.68 319.68,362.17 320.36,361.61 321.04,361.01 321.72,360.37 322.40,359.67 323.08,358.91 323.76,358.09 324.44,357.21 325.12,356.26 325.80,355.24 326.48,354.16 327.16,353.00 327.84,351.78 328.52,350.50 329.20,349.16 329.88,347.77 330.56,346.33 331.24,344.84 331.92,343.32 332.60,341.76 333.28,340.16 333.96,338.54 334.64,336.90 335.32,335.23 336.00,333.54 336.68,331.84 337.36,330.12 338.04,328.39 338.72,326.64 339.40,324.88 339.40,366.72 338.72,367.01 338.04,367.30 337.36,367.61 336.68,367.94 336.00,368.28 335.32,368.64 334.64,369.02 333.96,369.42 333.28,369.84 332.60,370.29 331.92,370.78 331.24,371.30 330.56,371.86 329.88,372.46 329.20,373.11 328.52,373.82 327.84,374.58 327.16,375.41 326.48,376.30 325.80,377.26 325.12,378.28 324.44,379.38 323.76,380.54 323.08,381.77 322.40,383.06 321.72,384.40 321.04,385.80 320.36,387.25 319.68,388.74 319.00,390.27 318.32,391.83 317.64,393.43 316.96,395.05 316.28,396.70 315.60,398.37 314.92,400.06 314.24,401.76 313.56,403.49 312.88,405.22 312.20,406.97" fill="#e4e4e4" stroke="none"/>
<polyline points="312.20,366.43 312.88,366.13 313.56,365.82 314.24,365.50 314.92,365.16 315.60,364.81 316.28,364.43 316.96,364.03 317.64,363.61 318.32,363.16 319.00,362.68 319.68,362.17 320.36,361.61 321.04,361.01 321.72,360.37 322.40,359.67 323.08,358.91 323.76,358.09 324.44,357.21 325.12,356.26 325.80,355.24 326.48,354.16 327.16,353.00 327.84,351.78 328.52,350.50 329.20,349.16 329.88,347.77 330.56,346.33 331.24,344.84 331.92,343.32 332.60,341.76 333.28,340.16 333.96,338.54 334.64,336.90 335.32,335.23 336.00,333.54 336.68,331.84 337.36,330.12 338.04,328.39 338.72,326.64 339.40,324.88" fill="none" stroke="#4a4a4a" stroke-width="0.55"/>
<polyline points="312.20,406.97 312.88,405.22 313.56,403.49 314.24,401.76 314.92,400.06 315.60,398.37 316.28,396.70 316.96,395.05 317.64,393.43 318.32,391.83 319.00,390.27 319.68,388.74 320.36,387.25 321.04,385.80 321.72,384.40 322.40,383.06 323.08,381.77 323.76,380.54 324.44,379.38 325.12,378.28 325.80,377.26 326.48,376.30 327.16,375.41 327.84,374.58 328.52,373.82 329.20,373.11 329.88,372.46 330.56,371.86 331.24,371.30 331.92,370.78 332.60,370.29 333.28,369.84 333.96,369.42 334.64,369.02 335.32,368.64 336.00,368.28 336.68,367.94 337.36,367.61 338.04,367.30 338.72,367.01 339.40,366.72" fill="none" stroke="#4a4a4a" stroke-width="0.55"/>
<line x1="312.20" y1="386.70" x2="339.40" y2="345.80" stroke="#3a3a3a" stroke-width="0.6" />
</g>
<line x1="307.40" y1="329.80" x2="307.40" y2="392.30" stroke="#333" stroke-width="0.8" />
<line x1="307.40" y1="392.30" x2="350.40" y2="392.30" stroke="#333" stroke-width="0.8" />
<line x1="305.40" y1="392.30" x2="307.40" y2="392.30" stroke="#333" stroke-width="0.8" />
<text transform="translate(303.80,394.80) scale(0.955,1)" font-size="7.52" text-anchor="end" fill="#0c0c0c" >0</text>
<line x1="305.40" y1="376.68" x2="307.40" y2="376.68" stroke="#333" stroke-width="0.8" />
<text transform="translate(303.80,379.18) scale(0.955,1)" font-size="7.52" text-anchor="end" fill="#0c0c0c" >2</text>
<line x1="305.40" y1="361.06" x2="307.40" y2="361.06" stroke="#333" stroke-width="0.8" />
<text transform="translate(303.80,363.56) scale(0.955,1)" font-size="7.52" text-anchor="end" fill="#0c0c0c" >4</text>
<line x1="305.40" y1="345.44" x2="307.40" y2="345.44" stroke="#333" stroke-width="0.8" />
<text transform="translate(303.80,347.94) scale(0.955,1)" font-size="7.52" text-anchor="end" fill="#0c0c0c" >6</text>
<line x1="305.40" y1="329.82" x2="307.40" y2="329.82" stroke="#333" stroke-width="0.8" />
<text transform="translate(303.80,332.32) scale(0.955,1)" font-size="7.52" text-anchor="end" fill="#0c0c0c" >8</text>
<line x1="307.40" y1="392.30" x2="307.40" y2="394.30" stroke="#333" stroke-width="0.8" />
<text transform="translate(307.40,401.50) scale(0.955,1)" font-size="7.52" text-anchor="middle" fill="#0c0c0c" >0</text>
<line x1="318.15" y1="392.30" x2="318.15" y2="394.30" stroke="#333" stroke-width="0.8" />
<text transform="translate(318.15,401.50) scale(0.955,1)" font-size="7.52" text-anchor="middle" fill="#0c0c0c" >2</text>
<line x1="328.90" y1="392.30" x2="328.90" y2="394.30" stroke="#333" stroke-width="0.8" />
<text transform="translate(328.90,401.50) scale(0.955,1)" font-size="7.52" text-anchor="middle" fill="#0c0c0c" >4</text>
<line x1="339.65" y1="392.30" x2="339.65" y2="394.30" stroke="#333" stroke-width="0.8" />
<text transform="translate(339.65,401.50) scale(0.955,1)" font-size="7.52" text-anchor="middle" fill="#0c0c0c" >6</text>
<line x1="350.40" y1="392.30" x2="350.40" y2="394.30" stroke="#333" stroke-width="0.8" />
<text transform="translate(350.40,401.50) scale(0.955,1)" font-size="7.52" text-anchor="middle" fill="#0c0c0c" >8</text>
<circle cx="311.60" cy="381.40" r="1.55" fill="#8e8ef2" stroke="#5050c4" stroke-width="0.5"/>
<circle cx="313.10" cy="381.40" r="1.55" fill="#8e8ef2" stroke="#5050c4" stroke-width="0.5"/>
<circle cx="323.50" cy="381.40" r="1.55" fill="#8e8ef2" stroke="#5050c4" stroke-width="0.5"/>
<circle cx="327.20" cy="381.40" r="1.55" fill="#8e8ef2" stroke="#5050c4" stroke-width="0.5"/>
<circle cx="324.00" cy="358.90" r="1.55" fill="#8e8ef2" stroke="#5050c4" stroke-width="0.5"/>
<circle cx="324.00" cy="348.60" r="1.55" fill="#8e8ef2" stroke="#5050c4" stroke-width="0.5"/>
<circle cx="332.50" cy="337.30" r="1.55" fill="#8e8ef2" stroke="#5050c4" stroke-width="0.5"/>
<circle cx="339.00" cy="345.20" r="1.55" fill="#8e8ef2" stroke="#5050c4" stroke-width="0.5"/>
<text transform="translate(309.70,322.30) scale(0.955,1)" font-size="7.31" text-anchor="start" fill="#0c0c0c" >R=0.66</text>
<text transform="translate(309.70,329.70) scale(0.955,1)" font-size="7.31" fill="#0c0c0c">p=0.037</text>
<text transform="translate(329.70,409.80) scale(0.955,1)" font-size="7.52" text-anchor="middle" fill="#0c0c0c" >Exhausted CD8</text>
<text transform="translate(328.70,418.60) scale(0.955,1)" font-size="7.52" text-anchor="middle" fill="#0c0c0c">(norm exp)</text>
<text transform="translate(296.20,358.70) rotate(-90) scale(0.955,1)" font-size="7.52" text-anchor="middle" fill="#0c0c0c">VL day 60 (Log<tspan font-size="4.81" dy="1.6">10</tspan><tspan dy="-1.6">)</tspan></text>
<rect x="444.50" y="201.25" width="9.18" height="10.18" fill="#ff2010"/>
<rect x="453.08" y="201.25" width="9.18" height="10.18" fill="#ff2010"/>
<rect x="461.66" y="201.25" width="9.18" height="10.18" fill="#f24850"/>
<rect x="470.24" y="201.25" width="9.18" height="10.18" fill="#f24850"/>
<rect x="478.82" y="201.25" width="9.18" height="10.18" fill="#f24850"/>
<rect x="487.40" y="201.25" width="9.18" height="10.18" fill="#f0727a"/>
<rect x="495.98" y="201.25" width="9.18" height="10.18" fill="#f15058"/>
<rect x="504.56" y="201.25" width="9.18" height="10.18" fill="#f15058"/>
<rect x="513.14" y="201.25" width="9.18" height="10.18" fill="#f06870"/>
<rect x="521.72" y="201.25" width="9.18" height="10.18" fill="#f07c84"/>
<rect x="530.30" y="201.25" width="9.18" height="10.18" fill="#f0969c"/>
<rect x="538.88" y="201.25" width="9.18" height="10.18" fill="#f06068"/>
<rect x="547.45" y="201.25" width="9.18" height="10.18" fill="#f08990"/>
<rect x="556.03" y="201.25" width="9.18" height="10.18" fill="#f0a3a9"/>
<rect x="564.61" y="201.25" width="9.18" height="10.18" fill="#e4e8ff"/>
<rect x="573.19" y="201.25" width="9.18" height="10.18" fill="#969bff"/>
<rect x="581.77" y="201.25" width="9.18" height="10.18" fill="#f0969c"/>
<rect x="590.35" y="201.25" width="9.18" height="10.18" fill="#f07c84"/>
<rect x="598.93" y="201.25" width="9.18" height="10.18" fill="#969bff"/>
<rect x="607.51" y="201.25" width="9.18" height="10.18" fill="#969bff"/>
<rect x="616.09" y="201.25" width="9.18" height="10.18" fill="#5048ff"/>
<rect x="624.67" y="201.25" width="8.58" height="10.18" fill="#1a0aff"/>
<rect x="444.50" y="210.83" width="9.18" height="10.18" fill="#ff2010"/>
<rect x="453.08" y="210.83" width="9.18" height="10.18" fill="#ff2010"/>
<rect x="461.66" y="210.83" width="9.18" height="10.18" fill="#f05860"/>
<rect x="470.24" y="210.83" width="9.18" height="10.18" fill="#f05860"/>
<rect x="478.82" y="210.83" width="9.18" height="10.18" fill="#f05860"/>
<rect x="487.40" y="210.83" width="9.18" height="10.18" fill="#f07c84"/>
<rect x="495.98" y="210.83" width="9.18" height="10.18" fill="#f06870"/>
<rect x="504.56" y="210.83" width="9.18" height="10.18" fill="#f06068"/>
<rect x="513.14" y="210.83" width="9.18" height="10.18" fill="#f08990"/>
<rect x="521.72" y="210.83" width="9.18" height="10.18" fill="#f0a3a9"/>
<rect x="530.30" y="210.83" width="9.18" height="10.18" fill="#f2c0c5"/>
<rect x="538.88" y="210.83" width="9.18" height="10.18" fill="#f0727a"/>
<rect x="547.45" y="210.83" width="9.18" height="10.18" fill="#f4d0d4"/>
<rect x="556.03" y="210.83" width="9.18" height="10.18" fill="#f0b0b6"/>
<rect x="564.61" y="210.83" width="9.18" height="10.18" fill="#d6daff"/>
<rect x="573.19" y="210.83" width="9.18" height="10.18" fill="#a3a8ff"/>
<rect x="581.77" y="210.83" width="9.18" height="10.18" fill="#f0a3a9"/>
<rect x="590.35" y="210.83" width="9.18" height="10.18" fill="#f07c84"/>
<rect x="598.93" y="210.83" width="9.18" height="10.18" fill="#c8ccff"/>
<rect x="607.51" y="210.83" width="9.18" height="10.18" fill="#a3a8ff"/>
<rect x="616.09" y="210.83" width="9.18" height="10.18" fill="#7c80ff"/>
<rect x="624.67" y="210.83" width="8.58" height="10.18" fill="#1a0aff"/>
<rect x="444.50" y="220.41" width="9.18" height="10.18" fill="#f15058"/>
<rect x="453.08" y="220.41" width="9.18" height="10.18" fill="#f05860"/>
<rect x="461.66" y="220.41" width="9.18" height="10.18" fill="#ff2010"/>
<rect x="470.24" y="220.41" width="9.18" height="10.18" fill="#ff2010"/>
<rect x="478.82" y="220.41" width="9.18" height="10.18" fill="#ff2010"/>
<rect x="487.40" y="220.41" width="9.18" height="10.18" fill="#ff2010"/>
<rect x="495.98" y="220.41" width="9.18" height="10.18" fill="#f83433"/>
<rect x="504.56" y="220.41" width="9.18" height="10.18" fill="#f06068"/>
<rect x="513.14" y="220.41" width="9.18" height="10.18" fill="#ff2010"/>
<rect x="521.72" y="220.41" width="9.18" height="10.18" fill="#fc271c"/>
<rect x="530.30" y="220.41" width="9.18" height="10.18" fill="#f05860"/>
<rect x="538.88" y="220.41" width="9.18" height="10.18" fill="#f05860"/>
<rect x="547.45" y="220.41" width="9.18" height="10.18" fill="#f08990"/>
<rect x="556.03" y="220.41" width="9.18" height="10.18" fill="#f83433"/>
<rect x="564.61" y="220.41" width="9.18" height="10.18" fill="#f0727a"/>
<rect x="573.19" y="220.41" width="9.18" height="10.18" fill="#f0b0b6"/>
<rect x="581.77" y="220.41" width="9.18" height="10.18" fill="#f2c0c5"/>
<rect x="590.35" y="220.41" width="9.18" height="10.18" fill="#c8ccff"/>
<rect x="598.93" y="220.41" width="9.18" height="10.18" fill="#5a56ff"/>
<rect x="607.51" y="220.41" width="9.18" height="10.18" fill="#1a0aff"/>
<rect x="616.09" y="220.41" width="9.18" height="10.18" fill="#3c30ff"/>
<rect x="624.67" y="220.41" width="8.58" height="10.18" fill="#3022ff"/>
<rect x="444.50" y="229.99" width="9.18" height="10.18" fill="#f15058"/>
<rect x="453.08" y="229.99" width="9.18" height="10.18" fill="#f05860"/>
<rect x="461.66" y="229.99" width="9.18" height="10.18" fill="#ff2010"/>
<rect x="470.24" y="229.99" width="9.18" height="10.18" fill="#ff2010"/>
<rect x="478.82" y="229.99" width="9.18" height="10.18" fill="#ff2010"/>
<rect x="487.40" y="229.99" width="9.18" height="10.18" fill="#fa2d28"/>
<rect x="495.98" y="229.99" width="9.18" height="10.18" fill="#f24850"/>
<rect x="504.56" y="229.99" width="9.18" height="10.18" fill="#f06870"/>
<rect x="513.14" y="229.99" width="9.18" height="10.18" fill="#ff2010"/>
<rect x="521.72" y="229.99" width="9.18" height="10.18" fill="#fc271c"/>
<rect x="530.30" y="229.99" width="9.18" height="10.18" fill="#f15058"/>
<rect x="538.88" y="229.99" width="9.18" height="10.18" fill="#f15058"/>
<rect x="547.45" y="229.99" width="9.18" height="10.18" fill="#f07c84"/>
<rect x="556.03" y="229.99" width="9.18" height="10.18" fill="#f44147"/>
<rect x="564.61" y="229.99" width="9.18" height="10.18" fill="#f08990"/>
<rect x="573.19" y="229.99" width="9.18" height="10.18" fill="#f4d0d4"/>
<rect x="581.77" y="229.99" width="9.18" height="10.18" fill="#f4d0d4"/>
<rect x="590.35" y="229.99" width="9.18" height="10.18" fill="#c8ccff"/>
<rect x="598.93" y="229.99" width="9.18" height="10.18" fill="#463cff"/>
<rect x="607.51" y="229.99" width="9.18" height="10.18" fill="#463cff"/>
<rect x="616.09" y="229.99" width="9.18" height="10.18" fill="#2414ff"/>
<rect x="624.67" y="229.99" width="8.58" height="10.18" fill="#2414ff"/>
<rect x="444.50" y="239.57" width="9.18" height="10.18" fill="#f15058"/>
<rect x="453.08" y="239.57" width="9.18" height="10.18" fill="#f05860"/>
<rect x="461.66" y="239.57" width="9.18" height="10.18" fill="#ff2010"/>
<rect x="470.24" y="239.57" width="9.18" height="10.18" fill="#ff2010"/>
<rect x="478.82" y="239.57" width="9.18" height="10.18" fill="#ff2010"/>
<rect x="487.40" y="239.57" width="9.18" height="10.18" fill="#fa2d28"/>
<rect x="495.98" y="239.57" width="9.18" height="10.18" fill="#f24850"/>
<rect x="504.56" y="239.57" width="9.18" height="10.18" fill="#f06870"/>
<rect x="513.14" y="239.57" width="9.18" height="10.18" fill="#ff2010"/>
<rect x="521.72" y="239.57" width="9.18" height="10.18" fill="#fc271c"/>
<rect x="530.30" y="239.57" width="9.18" height="10.18" fill="#f15058"/>
<rect x="538.88" y="239.57" width="9.18" height="10.18" fill="#f15058"/>
<rect x="547.45" y="239.57" width="9.18" height="10.18" fill="#f07c84"/>
<rect x="556.03" y="239.57" width="9.18" height="10.18" fill="#f44147"/>
<rect x="564.61" y="239.57" width="9.18" height="10.18" fill="#f08990"/>
<rect x="573.19" y="239.57" width="9.18" height="10.18" fill="#f4d0d4"/>
<rect x="581.77" y="239.57" width="9.18" height="10.18" fill="#f4d0d4"/>
<rect x="590.35" y="239.57" width="9.18" height="10.18" fill="#c8ccff"/>
<rect x="598.93" y="239.57" width="9.18" height="10.18" fill="#463cff"/>
<rect x="607.51" y="239.57" width="9.18" height="10.18" fill="#463cff"/>
<rect x="616.09" y="239.57" width="9.18" height="10.18" fill="#2414ff"/>
<rect x="624.67" y="239.57" width="8.58" height="10.18" fill="#2414ff"/>
<rect x="444.50" y="249.15" width="9.18" height="10.18" fill="#f07c84"/>
<rect x="453.08" y="249.15" width="9.18" height="10.18" fill="#f07c84"/>
<rect x="461.66" y="249.15" width="9.18" height="10.18" fill="#fc271c"/>
<rect x="470.24" y="249.15" width="9.18" height="10.18" fill="#f83433"/>
<rect x="478.82" y="249.15" width="9.18" height="10.18" fill="#f83433"/>
<rect x="487.40" y="249.15" width="9.18" height="10.18" fill="#ff2010"/>
<rect x="495.98" y="249.15" width="9.18" height="10.18" fill="#f63a3e"/>
<rect x="504.56" y="249.15" width="9.18" height="10.18" fill="#f0727a"/>
<rect x="513.14" y="249.15" width="9.18" height="10.18" fill="#ff2010"/>
<rect x="521.72" y="249.15" width="9.18" height="10.18" fill="#f83433"/>
<rect x="530.30" y="249.15" width="9.18" height="10.18" fill="#f06068"/>
<rect x="538.88" y="249.15" width="9.18" height="10.18" fill="#f06068"/>
<rect x="547.45" y="249.15" width="9.18" height="10.18" fill="#f0969c"/>
<rect x="556.03" y="249.15" width="9.18" height="10.18" fill="#ff2010"/>
<rect x="564.61" y="249.15" width="9.18" height="10.18" fill="#f06870"/>
<rect x="573.19" y="249.15" width="9.18" height="10.18" fill="#f0969c"/>
<rect x="581.77" y="249.15" width="9.18" height="10.18" fill="#faf6f8"/>
<rect x="590.35" y="249.15" width="9.18" height="10.18" fill="#969bff"/>
<rect x="598.93" y="249.15" width="9.18" height="10.18" fill="#5048ff"/>
<rect x="607.51" y="249.15" width="9.18" height="10.18" fill="#1a0aff"/>
<rect x="616.09" y="249.15" width="9.18" height="10.18" fill="#6464ff"/>
<rect x="624.67" y="249.15" width="8.58" height="10.18" fill="#6464ff"/>
<rect x="444.50" y="258.73" width="9.18" height="10.18" fill="#f05860"/>
<rect x="453.08" y="258.73" width="9.18" height="10.18" fill="#f0727a"/>
<rect x="461.66" y="258.73" width="9.18" height="10.18" fill="#f83433"/>
<rect x="470.24" y="258.73" width="9.18" height="10.18" fill="#f24850"/>
<rect x="478.82" y="258.73" width="9.18" height="10.18" fill="#f24850"/>
<rect x="487.40" y="258.73" width="9.18" height="10.18" fill="#f63a3e"/>
<rect x="495.98" y="258.73" width="9.18" height="10.18" fill="#ff2010"/>
<rect x="504.56" y="258.73" width="9.18" height="10.18" fill="#ff2010"/>
<rect x="513.14" y="258.73" width="9.18" height="10.18" fill="#ff2010"/>
<rect x="521.72" y="258.73" width="9.18" height="10.18" fill="#fc271c"/>
<rect x="530.30" y="258.73" width="9.18" height="10.18" fill="#f15058"/>
<rect x="538.88" y="258.73" width="9.18" height="10.18" fill="#f24850"/>
<rect x="547.45" y="258.73" width="9.18" height="10.18" fill="#f08990"/>
<rect x="556.03" y="258.73" width="9.18" height="10.18" fill="#f08990"/>
<rect x="564.61" y="258.73" width="9.18" height="10.18" fill="#f0727a"/>
<rect x="573.19" y="258.73" width="9.18" height="10.18" fill="#e4e8ff"/>
<rect x="581.77" y="258.73" width="9.18" height="10.18" fill="#f0969c"/>
<rect x="590.35" y="258.73" width="9.18" height="10.18" fill="#efeffc"/>
<rect x="598.93" y="258.73" width="9.18" height="10.18" fill="#3c30ff"/>
<rect x="607.51" y="258.73" width="9.18" height="10.18" fill="#2414ff"/>
<rect x="616.09" y="258.73" width="9.18" height="10.18" fill="#1a0aff"/>
<rect x="624.67" y="258.73" width="8.58" height="10.18" fill="#2414ff"/>
<rect x="444.50" y="268.31" width="9.18" height="10.18" fill="#f05860"/>
<rect x="453.08" y="268.31" width="9.18" height="10.18" fill="#f0727a"/>
<rect x="461.66" y="268.31" width="9.18" height="10.18" fill="#f06068"/>
<rect x="470.24" y="268.31" width="9.18" height="10.18" fill="#f06870"/>
<rect x="478.82" y="268.31" width="9.18" height="10.18" fill="#f06870"/>
<rect x="487.40" y="268.31" width="9.18" height="10.18" fill="#f0727a"/>
<rect x="495.98" y="268.31" width="9.18" height="10.18" fill="#ff2010"/>
<rect x="504.56" y="268.31" width="9.18" height="10.18" fill="#ff2010"/>
<rect x="513.14" y="268.31" width="9.18" height="10.18" fill="#f15058"/>
<rect x="521.72" y="268.31" width="9.18" height="10.18" fill="#f15058"/>
<rect x="530.30" y="268.31" width="9.18" height="10.18" fill="#f06068"/>
<rect x="538.88" y="268.31" width="9.18" height="10.18" fill="#f44147"/>
<rect x="547.45" y="268.31" width="9.18" height="10.18" fill="#f0969c"/>
<rect x="556.03" y="268.31" width="9.18" height="10.18" fill="#f4d0d4"/>
<rect x="564.61" y="268.31" width="9.18" height="10.18" fill="#f2c0c5"/>
<rect x="573.19" y="268.31" width="9.18" height="10.18" fill="#898eff"/>
<rect x="581.77" y="268.31" width="9.18" height="10.18" fill="#f0b0b6"/>
<rect x="590.35" y="268.31" width="9.18" height="10.18" fill="#f0b0b6"/>
<rect x="598.93" y="268.31" width="9.18" height="10.18" fill="#463cff"/>
<rect x="607.51" y="268.31" width="9.18" height="10.18" fill="#5048ff"/>
<rect x="616.09" y="268.31" width="9.18" height="10.18" fill="#3022ff"/>
<rect x="624.67" y="268.31" width="8.58" height="10.18" fill="#3022ff"/>
<rect x="444.50" y="277.89" width="9.18" height="10.18" fill="#f06870"/>
<rect x="453.08" y="277.89" width="9.18" height="10.18" fill="#f08990"/>
<rect x="461.66" y="277.89" width="9.18" height="10.18" fill="#ff2010"/>
<rect x="470.24" y="277.89" width="9.18" height="10.18" fill="#ff2010"/>
<rect x="478.82" y="277.89" width="9.18" height="10.18" fill="#ff2010"/>
<rect x="487.40" y="277.89" width="9.18" height="10.18" fill="#ff2010"/>
<rect x="495.98" y="277.89" width="9.18" height="10.18" fill="#ff2010"/>
<rect x="504.56" y="277.89" width="9.18" height="10.18" fill="#f15058"/>
<rect x="513.14" y="277.89" width="9.18" height="10.18" fill="#ff2010"/>
<rect x="521.72" y="277.89" width="9.18" height="10.18" fill="#ff2010"/>
<rect x="530.30" y="277.89" width="9.18" height="10.18" fill="#fa2d28"/>
<rect x="538.88" y="277.89" width="9.18" height="10.18" fill="#fa2d28"/>
<rect x="547.45" y="277.89" width="9.18" height="10.18" fill="#f24850"/>
<rect x="556.03" y="277.89" width="9.18" height="10.18" fill="#f24850"/>
<rect x="564.61" y="277.89" width="9.18" height="10.18" fill="#f06068"/>
<rect x="573.19" y="277.89" width="9.18" height="10.18" fill="#f4d0d4"/>
<rect x="581.77" y="277.89" width="9.18" height="10.18" fill="#f7e3e6"/>
<rect x="590.35" y="277.89" width="9.18" height="10.18" fill="#969bff"/>
<rect x="598.93" y="277.89" width="9.18" height="10.18" fill="#1000ff"/>
<rect x="607.51" y="277.89" width="9.18" height="10.18" fill="#3022ff"/>
<rect x="616.09" y="277.89" width="9.18" height="10.18" fill="#1000ff"/>
<rect x="624.67" y="277.89" width="8.58" height="10.18" fill="#3022ff"/>
<rect x="444.50" y="287.47" width="9.18" height="10.18" fill="#f0727a"/>
<rect x="453.08" y="287.47" width="9.18" height="10.18" fill="#f0969c"/>
<rect x="461.66" y="287.47" width="9.18" height="10.18" fill="#fa2d28"/>
<rect x="470.24" y="287.47" width="9.18" height="10.18" fill="#fa2d28"/>
<rect x="478.82" y="287.47" width="9.18" height="10.18" fill="#fa2d28"/>
<rect x="487.40" y="287.47" width="9.18" height="10.18" fill="#fa2d28"/>
<rect x="495.98" y="287.47" width="9.18" height="10.18" fill="#fc271c"/>
<rect x="504.56" y="287.47" width="9.18" height="10.18" fill="#f15058"/>
<rect x="513.14" y="287.47" width="9.18" height="10.18" fill="#ff2010"/>
<rect x="521.72" y="287.47" width="9.18" height="10.18" fill="#ff2010"/>
<rect x="530.30" y="287.47" width="9.18" height="10.18" fill="#ff2010"/>
<rect x="538.88" y="287.47" width="9.18" height="10.18" fill="#f83433"/>
<rect x="547.45" y="287.47" width="9.18" height="10.18" fill="#f06068"/>
<rect x="556.03" y="287.47" width="9.18" height="10.18" fill="#f06068"/>
<rect x="564.61" y="287.47" width="9.18" height="10.18" fill="#f24850"/>
<rect x="573.19" y="287.47" width="9.18" height="10.18" fill="#f7e3e6"/>
<rect x="581.77" y="287.47" width="9.18" height="10.18" fill="#f0b0b6"/>
<rect x="590.35" y="287.47" width="9.18" height="10.18" fill="#969bff"/>
<rect x="598.93" y="287.47" width="9.18" height="10.18" fill="#1000ff"/>
<rect x="607.51" y="287.47" width="9.18" height="10.18" fill="#463cff"/>
<rect x="616.09" y="287.47" width="9.18" height="10.18" fill="#1000ff"/>
<rect x="624.67" y="287.47" width="8.58" height="10.18" fill="#3022ff"/>
<rect x="444.50" y="297.05" width="9.18" height="10.18" fill="#f08990"/>
<rect x="453.08" y="297.05" width="9.18" height="10.18" fill="#f2c0c5"/>
<rect x="461.66" y="297.05" width="9.18" height="10.18" fill="#f05860"/>
<rect x="470.24" y="297.05" width="9.18" height="10.18" fill="#f15058"/>
<rect x="478.82" y="297.05" width="9.18" height="10.18" fill="#f15058"/>
<rect x="487.40" y="297.05" width="9.18" height="10.18" fill="#f06068"/>
<rect x="495.98" y="297.05" width="9.18" height="10.18" fill="#f15058"/>
<rect x="504.56" y="297.05" width="9.18" height="10.18" fill="#f06068"/>
<rect x="513.14" y="297.05" width="9.18" height="10.18" fill="#fa2d28"/>
<rect x="521.72" y="297.05" width="9.18" height="10.18" fill="#ff2010"/>
<rect x="530.30" y="297.05" width="9.18" height="10.18" fill="#ff2010"/>
<rect x="538.88" y="297.05" width="9.18" height="10.18" fill="#fa2d28"/>
<rect x="547.45" y="297.05" width="9.18" height="10.18" fill="#f24850"/>
<rect x="556.03" y="297.05" width="9.18" height="10.18" fill="#f07c84"/>
<rect x="564.61" y="297.05" width="9.18" height="10.18" fill="#f06870"/>
<rect x="573.19" y="297.05" width="9.18" height="10.18" fill="#e4e8ff"/>
<rect x="581.77" y="297.05" width="9.18" height="10.18" fill="#e4e8ff"/>
<rect x="590.35" y="297.05" width="9.18" height="10.18" fill="#898eff"/>
<rect x="598.93" y="297.05" width="9.18" height="10.18" fill="#1000ff"/>
<rect x="607.51" y="297.05" width="9.18" height="10.18" fill="#7c80ff"/>
<rect x="616.09" y="297.05" width="9.18" height="10.18" fill="#1a0aff"/>
<rect x="624.67" y="297.05" width="8.58" height="10.18" fill="#5a56ff"/>
<rect x="444.50" y="306.62" width="9.18" height="10.18" fill="#f05860"/>
<rect x="453.08" y="306.62" width="9.18" height="10.18" fill="#f0727a"/>
<rect x="461.66" y="306.62" width="9.18" height="10.18" fill="#f15058"/>
<rect x="470.24" y="306.62" width="9.18" height="10.18" fill="#f24850"/>
<rect x="478.82" y="306.62" width="9.18" height="10.18" fill="#f24850"/>
<rect x="487.40" y="306.62" width="9.18" height="10.18" fill="#f05860"/>
<rect x="495.98" y="306.62" width="9.18" height="10.18" fill="#f44147"/>
<rect x="504.56" y="306.62" width="9.18" height="10.18" fill="#f44147"/>
<rect x="513.14" y="306.62" width="9.18" height="10.18" fill="#fa2d28"/>
<rect x="521.72" y="306.62" width="9.18" height="10.18" fill="#f44147"/>
<rect x="530.30" y="306.62" width="9.18" height="10.18" fill="#f83433"/>
<rect x="538.88" y="306.62" width="9.18" height="10.18" fill="#ff2010"/>
<rect x="547.45" y="306.62" width="9.18" height="10.18" fill="#fa2d28"/>
<rect x="556.03" y="306.62" width="9.18" height="10.18" fill="#f07c84"/>
<rect x="564.61" y="306.62" width="9.18" height="10.18" fill="#f4d0d4"/>
<rect x="573.19" y="306.62" width="9.18" height="10.18" fill="#b0b4ff"/>
<rect x="581.77" y="306.62" width="9.18" height="10.18" fill="#b0b4ff"/>
<rect x="590.35" y="306.62" width="9.18" height="10.18" fill="#b0b4ff"/>
<rect x="598.93" y="306.62" width="9.18" height="10.18" fill="#1000ff"/>
<rect x="607.51" y="306.62" width="9.18" height="10.18" fill="#6464ff"/>
<rect x="616.09" y="306.62" width="9.18" height="10.18" fill="#1a0aff"/>
<rect x="624.67" y="306.62" width="8.58" height="10.18" fill="#5048ff"/>
<rect x="444.50" y="316.20" width="9.18" height="10.18" fill="#f08990"/>
<rect x="453.08" y="316.20" width="9.18" height="10.18" fill="#f2c0c5"/>
<rect x="461.66" y="316.20" width="9.18" height="10.18" fill="#f08990"/>
<rect x="470.24" y="316.20" width="9.18" height="10.18" fill="#f0727a"/>
<rect x="478.82" y="316.20" width="9.18" height="10.18" fill="#f0727a"/>
<rect x="487.40" y="316.20" width="9.18" height="10.18" fill="#f0969c"/>
<rect x="495.98" y="316.20" width="9.18" height="10.18" fill="#f07c84"/>
<rect x="504.56" y="316.20" width="9.18" height="10.18" fill="#f07c84"/>
<rect x="513.14" y="316.20" width="9.18" height="10.18" fill="#f05860"/>
<rect x="521.72" y="316.20" width="9.18" height="10.18" fill="#f06870"/>
<rect x="530.30" y="316.20" width="9.18" height="10.18" fill="#f44147"/>
<rect x="538.88" y="316.20" width="9.18" height="10.18" fill="#f83433"/>
<rect x="547.45" y="316.20" width="9.18" height="10.18" fill="#ff2010"/>
<rect x="556.03" y="316.20" width="9.18" height="10.18" fill="#f07c84"/>
<rect x="564.61" y="316.20" width="9.18" height="10.18" fill="#faf6f8"/>
<rect x="573.19" y="316.20" width="9.18" height="10.18" fill="#c8ccff"/>
<rect x="581.77" y="316.20" width="9.18" height="10.18" fill="#c8ccff"/>
<rect x="590.35" y="316.20" width="9.18" height="10.18" fill="#bcc0ff"/>
<rect x="598.93" y="316.20" width="9.18" height="10.18" fill="#1000ff"/>
<rect x="607.51" y="316.20" width="9.18" height="10.18" fill="#bcc0ff"/>
<rect x="616.09" y="316.20" width="9.18" height="10.18" fill="#3022ff"/>
<rect x="624.67" y="316.20" width="8.58" height="10.18" fill="#7072ff"/>
<rect x="444.50" y="325.78" width="9.18" height="10.18" fill="#f0a3a9"/>
<rect x="453.08" y="325.78" width="9.18" height="10.18" fill="#f0a3a9"/>
<rect x="461.66" y="325.78" width="9.18" height="10.18" fill="#f83433"/>
<rect x="470.24" y="325.78" width="9.18" height="10.18" fill="#f44147"/>
<rect x="478.82" y="325.78" width="9.18" height="10.18" fill="#f44147"/>
<rect x="487.40" y="325.78" width="9.18" height="10.18" fill="#ff2010"/>
<rect x="495.98" y="325.78" width="9.18" height="10.18" fill="#f07c84"/>
<rect x="504.56" y="325.78" width="9.18" height="10.18" fill="#f2c0c5"/>
<rect x="513.14" y="325.78" width="9.18" height="10.18" fill="#f05860"/>
<rect x="521.72" y="325.78" width="9.18" height="10.18" fill="#f0727a"/>
<rect x="530.30" y="325.78" width="9.18" height="10.18" fill="#f07c84"/>
<rect x="538.88" y="325.78" width="9.18" height="10.18" fill="#f07c84"/>
<rect x="547.45" y="325.78" width="9.18" height="10.18" fill="#f08990"/>
<rect x="556.03" y="325.78" width="9.18" height="10.18" fill="#ff2010"/>
<rect x="564.61" y="325.78" width="9.18" height="10.18" fill="#f06870"/>
<rect x="573.19" y="325.78" width="9.18" height="10.18" fill="#f05860"/>
<rect x="581.77" y="325.78" width="9.18" height="10.18" fill="#c8ccff"/>
<rect x="590.35" y="325.78" width="9.18" height="10.18" fill="#5048ff"/>
<rect x="598.93" y="325.78" width="9.18" height="10.18" fill="#7072ff"/>
<rect x="607.51" y="325.78" width="9.18" height="10.18" fill="#3c30ff"/>
<rect x="616.09" y="325.78" width="9.18" height="10.18" fill="#969bff"/>
<rect x="624.67" y="325.78" width="8.58" height="10.18" fill="#969bff"/>
<rect x="444.50" y="335.36" width="9.18" height="10.18" fill="#e4e8ff"/>
<rect x="453.08" y="335.36" width="9.18" height="10.18" fill="#d6daff"/>
<rect x="461.66" y="335.36" width="9.18" height="10.18" fill="#f06870"/>
<rect x="470.24" y="335.36" width="9.18" height="10.18" fill="#f07c84"/>
<rect x="478.82" y="335.36" width="9.18" height="10.18" fill="#f07c84"/>
<rect x="487.40" y="335.36" width="9.18" height="10.18" fill="#f06068"/>
<rect x="495.98" y="335.36" width="9.18" height="10.18" fill="#f06870"/>
<rect x="504.56" y="335.36" width="9.18" height="10.18" fill="#f0b0b6"/>
<rect x="513.14" y="335.36" width="9.18" height="10.18" fill="#f06870"/>
<rect x="521.72" y="335.36" width="9.18" height="10.18" fill="#f24850"/>
<rect x="530.30" y="335.36" width="9.18" height="10.18" fill="#f0727a"/>
<rect x="538.88" y="335.36" width="9.18" height="10.18" fill="#f4d0d4"/>
<rect x="547.45" y="335.36" width="9.18" height="10.18" fill="#faf6f8"/>
<rect x="556.03" y="335.36" width="9.18" height="10.18" fill="#f0727a"/>
<rect x="564.61" y="335.36" width="9.18" height="10.18" fill="#ff2010"/>
<rect x="573.19" y="335.36" width="9.18" height="10.18" fill="#f06068"/>
<rect x="581.77" y="335.36" width="9.18" height="10.18" fill="#f0969c"/>
<rect x="590.35" y="335.36" width="9.18" height="10.18" fill="#7072ff"/>
<rect x="598.93" y="335.36" width="9.18" height="10.18" fill="#898eff"/>
<rect x="607.51" y="335.36" width="9.18" height="10.18" fill="#7072ff"/>
<rect x="616.09" y="335.36" width="9.18" height="10.18" fill="#7c80ff"/>
<rect x="624.67" y="335.36" width="8.58" height="10.18" fill="#b0b4ff"/>
<rect x="444.50" y="344.94" width="9.18" height="10.18" fill="#969bff"/>
<rect x="453.08" y="344.94" width="9.18" height="10.18" fill="#969bff"/>
<rect x="461.66" y="344.94" width="9.18" height="10.18" fill="#f0b0b6"/>
<rect x="470.24" y="344.94" width="9.18" height="10.18" fill="#f4d0d4"/>
<rect x="478.82" y="344.94" width="9.18" height="10.18" fill="#f4d0d4"/>
<rect x="487.40" y="344.94" width="9.18" height="10.18" fill="#f08990"/>
<rect x="495.98" y="344.94" width="9.18" height="10.18" fill="#e4e8ff"/>
<rect x="504.56" y="344.94" width="9.18" height="10.18" fill="#898eff"/>
<rect x="513.14" y="344.94" width="9.18" height="10.18" fill="#f4d0d4"/>
<rect x="521.72" y="344.94" width="9.18" height="10.18" fill="#f7e3e6"/>
<rect x="530.30" y="344.94" width="9.18" height="10.18" fill="#e4e8ff"/>
<rect x="538.88" y="344.94" width="9.18" height="10.18" fill="#a3a8ff"/>
<rect x="547.45" y="344.94" width="9.18" height="10.18" fill="#c8ccff"/>
<rect x="556.03" y="344.94" width="9.18" height="10.18" fill="#f05860"/>
<rect x="564.61" y="344.94" width="9.18" height="10.18" fill="#f06870"/>
<rect x="573.19" y="344.94" width="9.18" height="10.18" fill="#ff2010"/>
<rect x="581.77" y="344.94" width="9.18" height="10.18" fill="#f7e3e6"/>
<rect x="590.35" y="344.94" width="9.18" height="10.18" fill="#5048ff"/>
<rect x="598.93" y="344.94" width="9.18" height="10.18" fill="#f7e3e6"/>
<rect x="607.51" y="344.94" width="9.18" height="10.18" fill="#969bff"/>
<rect x="616.09" y="344.94" width="9.18" height="10.18" fill="#f0a3a9"/>
<rect x="624.67" y="344.94" width="8.58" height="10.18" fill="#f0b0b6"/>
<rect x="444.50" y="354.52" width="9.18" height="10.18" fill="#f0969c"/>
<rect x="453.08" y="354.52" width="9.18" height="10.18" fill="#f0a3a9"/>
<rect x="461.66" y="354.52" width="9.18" height="10.18" fill="#f2c0c5"/>
<rect x="470.24" y="354.52" width="9.18" height="10.18" fill="#f4d0d4"/>
<rect x="478.82" y="354.52" width="9.18" height="10.18" fill="#f4d0d4"/>
<rect x="487.40" y="354.52" width="9.18" height="10.18" fill="#faf6f8"/>
<rect x="495.98" y="354.52" width="9.18" height="10.18" fill="#f0969c"/>
<rect x="504.56" y="354.52" width="9.18" height="10.18" fill="#f0b0b6"/>
<rect x="513.14" y="354.52" width="9.18" height="10.18" fill="#f7e3e6"/>
<rect x="521.72" y="354.52" width="9.18" height="10.18" fill="#f0b0b6"/>
<rect x="530.30" y="354.52" width="9.18" height="10.18" fill="#e4e8ff"/>
<rect x="538.88" y="354.52" width="9.18" height="10.18" fill="#b0b4ff"/>
<rect x="547.45" y="354.52" width="9.18" height="10.18" fill="#c8ccff"/>
<rect x="556.03" y="354.52" width="9.18" height="10.18" fill="#c8ccff"/>
<rect x="564.61" y="354.52" width="9.18" height="10.18" fill="#f0969c"/>
<rect x="573.19" y="354.52" width="9.18" height="10.18" fill="#f7e3e6"/>
<rect x="581.77" y="354.52" width="9.18" height="10.18" fill="#ff2010"/>
<rect x="590.35" y="354.52" width="9.18" height="10.18" fill="#f05860"/>
<rect x="598.93" y="354.52" width="9.18" height="10.18" fill="#f0b0b6"/>
<rect x="607.51" y="354.52" width="9.18" height="10.18" fill="#f4d0d4"/>
<rect x="616.09" y="354.52" width="9.18" height="10.18" fill="#969bff"/>
<rect x="624.67" y="354.52" width="8.58" height="10.18" fill="#5a56ff"/>
<rect x="444.50" y="364.10" width="9.18" height="10.18" fill="#f07c84"/>
<rect x="453.08" y="364.10" width="9.18" height="10.18" fill="#f07c84"/>
<rect x="461.66" y="364.10" width="9.18" height="10.18" fill="#bcc0ff"/>
<rect x="470.24" y="364.10" width="9.18" height="10.18" fill="#bcc0ff"/>
<rect x="478.82" y="364.10" width="9.18" height="10.18" fill="#bcc0ff"/>
<rect x="487.40" y="364.10" width="9.18" height="10.18" fill="#898eff"/>
<rect x="495.98" y="364.10" width="9.18" height="10.18" fill="#efeffc"/>
<rect x="504.56" y="364.10" width="9.18" height="10.18" fill="#f0b0b6"/>
<rect x="513.14" y="364.10" width="9.18" height="10.18" fill="#969bff"/>
<rect x="521.72" y="364.10" width="9.18" height="10.18" fill="#969bff"/>
<rect x="530.30" y="364.10" width="9.18" height="10.18" fill="#898eff"/>
<rect x="538.88" y="364.10" width="9.18" height="10.18" fill="#b0b4ff"/>
<rect x="547.45" y="364.10" width="9.18" height="10.18" fill="#bcc0ff"/>
<rect x="556.03" y="364.10" width="9.18" height="10.18" fill="#5048ff"/>
<rect x="564.61" y="364.10" width="9.18" height="10.18" fill="#7072ff"/>
<rect x="573.19" y="364.10" width="9.18" height="10.18" fill="#5048ff"/>
<rect x="581.77" y="364.10" width="9.18" height="10.18" fill="#f05860"/>
<rect x="590.35" y="364.10" width="9.18" height="10.18" fill="#ff2010"/>
<rect x="598.93" y="364.10" width="9.18" height="10.18" fill="#f07c84"/>
<rect x="607.51" y="364.10" width="9.18" height="10.18" fill="#f07c84"/>
<rect x="616.09" y="364.10" width="9.18" height="10.18" fill="#efeffc"/>
<rect x="624.67" y="364.10" width="8.58" height="10.18" fill="#898eff"/>
<rect x="444.50" y="373.68" width="9.18" height="10.18" fill="#969bff"/>
<rect x="453.08" y="373.68" width="9.18" height="10.18" fill="#c8ccff"/>
<rect x="461.66" y="373.68" width="9.18" height="10.18" fill="#5048ff"/>
<rect x="470.24" y="373.68" width="9.18" height="10.18" fill="#463cff"/>
<rect x="478.82" y="373.68" width="9.18" height="10.18" fill="#463cff"/>
<rect x="487.40" y="373.68" width="9.18" height="10.18" fill="#463cff"/>
<rect x="495.98" y="373.68" width="9.18" height="10.18" fill="#3c30ff"/>
<rect x="504.56" y="373.68" width="9.18" height="10.18" fill="#463cff"/>
<rect x="513.14" y="373.68" width="9.18" height="10.18" fill="#1000ff"/>
<rect x="521.72" y="373.68" width="9.18" height="10.18" fill="#1000ff"/>
<rect x="530.30" y="373.68" width="9.18" height="10.18" fill="#1000ff"/>
<rect x="538.88" y="373.68" width="9.18" height="10.18" fill="#1000ff"/>
<rect x="547.45" y="373.68" width="9.18" height="10.18" fill="#1000ff"/>
<rect x="556.03" y="373.68" width="9.18" height="10.18" fill="#7072ff"/>
<rect x="564.61" y="373.68" width="9.18" height="10.18" fill="#898eff"/>
<rect x="573.19" y="373.68" width="9.18" height="10.18" fill="#f7e3e6"/>
<rect x="581.77" y="373.68" width="9.18" height="10.18" fill="#f0b0b6"/>
<rect x="590.35" y="373.68" width="9.18" height="10.18" fill="#f0727a"/>
<rect x="598.93" y="373.68" width="9.18" height="10.18" fill="#ff2010"/>
<rect x="607.51" y="373.68" width="9.18" height="10.18" fill="#f05860"/>
<rect x="616.09" y="373.68" width="9.18" height="10.18" fill="#f63a3e"/>
<rect x="624.67" y="373.68" width="8.58" height="10.18" fill="#f06870"/>
<rect x="444.50" y="383.26" width="9.18" height="10.18" fill="#969bff"/>
<rect x="453.08" y="383.26" width="9.18" height="10.18" fill="#a3a8ff"/>
<rect x="461.66" y="383.26" width="9.18" height="10.18" fill="#1a0aff"/>
<rect x="470.24" y="383.26" width="9.18" height="10.18" fill="#463cff"/>
<rect x="478.82" y="383.26" width="9.18" height="10.18" fill="#463cff"/>
<rect x="487.40" y="383.26" width="9.18" height="10.18" fill="#1a0aff"/>
<rect x="495.98" y="383.26" width="9.18" height="10.18" fill="#3022ff"/>
<rect x="504.56" y="383.26" width="9.18" height="10.18" fill="#5048ff"/>
<rect x="513.14" y="383.26" width="9.18" height="10.18" fill="#3022ff"/>
<rect x="521.72" y="383.26" width="9.18" height="10.18" fill="#463cff"/>
<rect x="530.30" y="383.26" width="9.18" height="10.18" fill="#7c80ff"/>
<rect x="538.88" y="383.26" width="9.18" height="10.18" fill="#6464ff"/>
<rect x="547.45" y="383.26" width="9.18" height="10.18" fill="#bcc0ff"/>
<rect x="556.03" y="383.26" width="9.18" height="10.18" fill="#3c30ff"/>
<rect x="564.61" y="383.26" width="9.18" height="10.18" fill="#7072ff"/>
<rect x="573.19" y="383.26" width="9.18" height="10.18" fill="#969bff"/>
<rect x="581.77" y="383.26" width="9.18" height="10.18" fill="#f4d0d4"/>
<rect x="590.35" y="383.26" width="9.18" height="10.18" fill="#f07c84"/>
<rect x="598.93" y="383.26" width="9.18" height="10.18" fill="#f05860"/>
<rect x="607.51" y="383.26" width="9.18" height="10.18" fill="#ff2010"/>
<rect x="616.09" y="383.26" width="9.18" height="10.18" fill="#f08990"/>
<rect x="624.67" y="383.26" width="8.58" height="10.18" fill="#f0969c"/>
<rect x="444.50" y="392.84" width="9.18" height="10.18" fill="#463cff"/>
<rect x="453.08" y="392.84" width="9.18" height="10.18" fill="#7c80ff"/>
<rect x="461.66" y="392.84" width="9.18" height="10.18" fill="#3c30ff"/>
<rect x="470.24" y="392.84" width="9.18" height="10.18" fill="#2414ff"/>
<rect x="478.82" y="392.84" width="9.18" height="10.18" fill="#2414ff"/>
<rect x="487.40" y="392.84" width="9.18" height="10.18" fill="#6464ff"/>
<rect x="495.98" y="392.84" width="9.18" height="10.18" fill="#1a0aff"/>
<rect x="504.56" y="392.84" width="9.18" height="10.18" fill="#3022ff"/>
<rect x="513.14" y="392.84" width="9.18" height="10.18" fill="#1000ff"/>
<rect x="521.72" y="392.84" width="9.18" height="10.18" fill="#1000ff"/>
<rect x="530.30" y="392.84" width="9.18" height="10.18" fill="#1000ff"/>
<rect x="538.88" y="392.84" width="9.18" height="10.18" fill="#1a0aff"/>
<rect x="547.45" y="392.84" width="9.18" height="10.18" fill="#3022ff"/>
<rect x="556.03" y="392.84" width="9.18" height="10.18" fill="#969bff"/>
<rect x="564.61" y="392.84" width="9.18" height="10.18" fill="#7c80ff"/>
<rect x="573.19" y="392.84" width="9.18" height="10.18" fill="#f0a3a9"/>
<rect x="581.77" y="392.84" width="9.18" height="10.18" fill="#969bff"/>
<rect x="590.35" y="392.84" width="9.18" height="10.18" fill="#efeffc"/>
<rect x="598.93" y="392.84" width="9.18" height="10.18" fill="#f63a3e"/>
<rect x="607.51" y="392.84" width="9.18" height="10.18" fill="#f08990"/>
<rect x="616.09" y="392.84" width="9.18" height="10.18" fill="#ff2010"/>
<rect x="624.67" y="392.84" width="8.58" height="10.18" fill="#fc271c"/>
<rect x="444.50" y="402.42" width="9.18" height="9.58" fill="#1a0aff"/>
<rect x="453.08" y="402.42" width="9.18" height="9.58" fill="#1a0aff"/>
<rect x="461.66" y="402.42" width="9.18" height="9.58" fill="#2414ff"/>
<rect x="470.24" y="402.42" width="9.18" height="9.58" fill="#2414ff"/>
<rect x="478.82" y="402.42" width="9.18" height="9.58" fill="#2414ff"/>
<rect x="487.40" y="402.42" width="9.18" height="9.58" fill="#6464ff"/>
<rect x="495.98" y="402.42" width="9.18" height="9.58" fill="#2414ff"/>
<rect x="504.56" y="402.42" width="9.18" height="9.58" fill="#3022ff"/>
<rect x="513.14" y="402.42" width="9.18" height="9.58" fill="#3022ff"/>
<rect x="521.72" y="402.42" width="9.18" height="9.58" fill="#3022ff"/>
<rect x="530.30" y="402.42" width="9.18" height="9.58" fill="#5a56ff"/>
<rect x="538.88" y="402.42" width="9.18" height="9.58" fill="#5048ff"/>
<rect x="547.45" y="402.42" width="9.18" height="9.58" fill="#7072ff"/>
<rect x="556.03" y="402.42" width="9.18" height="9.58" fill="#969bff"/>
<rect x="564.61" y="402.42" width="9.18" height="9.58" fill="#b0b4ff"/>
<rect x="573.19" y="402.42" width="9.18" height="9.58" fill="#f0b0b6"/>
<rect x="581.77" y="402.42" width="9.18" height="9.58" fill="#5a56ff"/>
<rect x="590.35" y="402.42" width="9.18" height="9.58" fill="#898eff"/>
<rect x="598.93" y="402.42" width="9.18" height="9.58" fill="#f06870"/>
<rect x="607.51" y="402.42" width="9.18" height="9.58" fill="#f0969c"/>
<rect x="616.09" y="402.42" width="9.18" height="9.58" fill="#fc271c"/>
<rect x="624.67" y="402.42" width="8.58" height="9.58" fill="#ff2010"/>
<text transform="translate(438.2,207.44) scale(0.955,1)" font-size="7.52" text-anchor="end" fill="#0c0c0c">PDCD1</text>
<text transform="translate(438.2,217.02) scale(0.955,1)" font-size="7.52" text-anchor="end" fill="#0c0c0c">T cells</text>
<text transform="translate(438.2,226.60) scale(0.955,1)" font-size="7.52" text-anchor="end" fill="#0c0c0c">% ZIK-CD4<tspan font-size="4.49" dy="-2.4">+</tspan><tspan dy="2.4">IL2</tspan><tspan font-size="4.49" dy="-2.4">+</tspan></text>
<text transform="translate(438.2,236.18) scale(0.955,1)" font-size="7.52" text-anchor="end" fill="#0c0c0c">FOXP3</text>
<text transform="translate(438.2,245.76) scale(0.955,1)" font-size="7.52" text-anchor="end" fill="#0c0c0c">Treg</text>
<text transform="translate(438.2,255.34) scale(0.955,1)" font-size="7.52" text-anchor="end" fill="#0c0c0c">% ZIK-CD4<tspan font-size="4.49" dy="-2.4">+</tspan><tspan dy="2.4">IFNγ</tspan><tspan font-size="4.49" dy="-2.4">+</tspan></text>
<text transform="translate(438.2,264.92) scale(0.955,1)" font-size="7.52" text-anchor="end" fill="#0c0c0c">% ZIK-CD4<tspan font-size="4.49" dy="-2.4">+</tspan><tspan dy="2.4">IL4</tspan><tspan font-size="4.49" dy="-2.4">+</tspan></text>
<text transform="translate(438.2,274.50) scale(0.955,1)" font-size="7.52" text-anchor="end" fill="#0c0c0c">IL4</text>
<text transform="translate(438.2,284.08) scale(0.955,1)" font-size="7.52" text-anchor="end" fill="#0c0c0c">Vax</text>
<text transform="translate(438.2,293.66) scale(0.955,1)" font-size="7.52" text-anchor="end" fill="#0c0c0c">SNT90</text>
<text transform="translate(438.2,303.24) scale(0.955,1)" font-size="7.52" text-anchor="end" fill="#0c0c0c">IL13</text>
<text transform="translate(438.2,312.81) scale(0.955,1)" font-size="7.52" text-anchor="end" fill="#0c0c0c">IL4R</text>
<text transform="translate(438.2,322.39) scale(0.955,1)" font-size="7.52" text-anchor="end" fill="#0c0c0c">Adaptive immunity</text>
<text transform="translate(438.2,331.97) scale(0.955,1)" font-size="7.52" text-anchor="end" fill="#0c0c0c">% ZIK-CD8<tspan font-size="4.49" dy="-2.4">+</tspan><tspan dy="2.4">IL2</tspan><tspan font-size="4.49" dy="-2.4">+</tspan></text>
<text transform="translate(438.2,341.55) scale(0.955,1)" font-size="7.52" text-anchor="end" fill="#0c0c0c">Weight</text>
<text transform="translate(438.2,351.13) scale(0.955,1)" font-size="7.52" text-anchor="end" fill="#0c0c0c">% ZIK-CD8<tspan font-size="4.49" dy="-2.4">+</tspan><tspan dy="2.4">IFNγ</tspan><tspan font-size="4.49" dy="-2.4">+</tspan></text>
<text transform="translate(438.2,360.71) scale(0.955,1)" font-size="7.52" text-anchor="end" fill="#0c0c0c">Age</text>
<text transform="translate(438.2,370.29) scale(0.955,1)" font-size="7.52" text-anchor="end" fill="#0c0c0c">Sex</text>
<text transform="translate(438.2,379.87) scale(0.955,1)" font-size="7.52" text-anchor="end" fill="#0c0c0c">VL d60</text>
<text transform="translate(438.2,389.45) scale(0.955,1)" font-size="7.52" text-anchor="end" fill="#0c0c0c">C8B</text>
<text transform="translate(438.2,399.03) scale(0.955,1)" font-size="7.52" text-anchor="end" fill="#0c0c0c">GNAS</text>
<text transform="translate(438.2,408.61) scale(0.955,1)" font-size="7.52" text-anchor="end" fill="#0c0c0c">VL d57</text>
<text transform="translate(450.59,416.4) rotate(-90) scale(0.955,1)" font-size="7.63" text-anchor="end" fill="#0c0c0c">PDCD1</text>
<text transform="translate(459.17,416.4) rotate(-90) scale(0.955,1)" font-size="7.63" text-anchor="end" fill="#0c0c0c">T cells</text>
<text transform="translate(467.75,416.4) rotate(-90) scale(0.955,1)" font-size="7.63" text-anchor="end" fill="#0c0c0c">% ZIK-CD4<tspan font-size="4.49" dy="-2.4">+</tspan><tspan dy="2.4">IL2</tspan><tspan font-size="4.49" dy="-2.4">+</tspan></text>
<text transform="translate(476.33,416.4) rotate(-90) scale(0.955,1)" font-size="7.63" text-anchor="end" fill="#0c0c0c">FOXP3</text>
<text transform="translate(484.91,416.4) rotate(-90) scale(0.955,1)" font-size="7.63" text-anchor="end" fill="#0c0c0c">Treg</text>
<text transform="translate(493.49,416.4) rotate(-90) scale(0.955,1)" font-size="7.63" text-anchor="end" fill="#0c0c0c">% ZIK-CD4<tspan font-size="4.49" dy="-2.4">+</tspan><tspan dy="2.4">IFNγ</tspan><tspan font-size="4.49" dy="-2.4">+</tspan></text>
<text transform="translate(502.07,416.4) rotate(-90) scale(0.955,1)" font-size="7.63" text-anchor="end" fill="#0c0c0c">% ZIK-CD4<tspan font-size="4.49" dy="-2.4">+</tspan><tspan dy="2.4">IL4</tspan><tspan font-size="4.49" dy="-2.4">+</tspan></text>
<text transform="translate(510.65,416.4) rotate(-90) scale(0.955,1)" font-size="7.63" text-anchor="end" fill="#0c0c0c">IL4</text>
<text transform="translate(519.23,416.4) rotate(-90) scale(0.955,1)" font-size="7.63" text-anchor="end" fill="#0c0c0c">Vax</text>
<text transform="translate(527.81,416.4) rotate(-90) scale(0.955,1)" font-size="7.63" text-anchor="end" fill="#0c0c0c">SNT90</text>
<text transform="translate(536.39,416.4) rotate(-90) scale(0.955,1)" font-size="7.63" text-anchor="end" fill="#0c0c0c">IL13</text>
<text transform="translate(544.96,416.4) rotate(-90) scale(0.955,1)" font-size="7.63" text-anchor="end" fill="#0c0c0c">IL4R</text>
<text transform="translate(553.54,416.4) rotate(-90) scale(0.955,1)" font-size="7.63" text-anchor="end" fill="#0c0c0c">Adaptive immunity</text>
<text transform="translate(562.12,416.4) rotate(-90) scale(0.955,1)" font-size="7.63" text-anchor="end" fill="#0c0c0c">% ZIK-CD8<tspan font-size="4.49" dy="-2.4">+</tspan><tspan dy="2.4">IL2</tspan><tspan font-size="4.49" dy="-2.4">+</tspan></text>
<text transform="translate(570.70,416.4) rotate(-90) scale(0.955,1)" font-size="7.63" text-anchor="end" fill="#0c0c0c">Weight</text>
<text transform="translate(579.28,416.4) rotate(-90) scale(0.955,1)" font-size="7.63" text-anchor="end" fill="#0c0c0c">% ZIK-CD8<tspan font-size="4.49" dy="-2.4">+</tspan><tspan dy="2.4">IFNγ</tspan><tspan font-size="4.49" dy="-2.4">+</tspan></text>
<text transform="translate(587.86,416.4) rotate(-90) scale(0.955,1)" font-size="7.63" text-anchor="end" fill="#0c0c0c">Age</text>
<text transform="translate(596.44,416.4) rotate(-90) scale(0.955,1)" font-size="7.63" text-anchor="end" fill="#0c0c0c">Sex</text>
<text transform="translate(605.02,416.4) rotate(-90) scale(0.955,1)" font-size="7.63" text-anchor="end" fill="#0c0c0c">VL d60</text>
<text transform="translate(613.60,416.4) rotate(-90) scale(0.955,1)" font-size="7.63" text-anchor="end" fill="#0c0c0c">C8B</text>
<text transform="translate(622.18,416.4) rotate(-90) scale(0.955,1)" font-size="7.63" text-anchor="end" fill="#0c0c0c">GNAS</text>
<text transform="translate(630.76,416.4) rotate(-90) scale(0.955,1)" font-size="7.63" text-anchor="end" fill="#0c0c0c">VL d57</text>
<polyline points="448.79,200.85 448.79,200.30 457.37,200.30 457.37,200.85" fill="none" stroke="#555" stroke-width="0.55"/>
<polyline points="474.53,200.85 474.53,200.60 483.11,200.60 483.11,200.85" fill="none" stroke="#555" stroke-width="0.55"/>
<polyline points="465.95,200.85 465.95,200.00 478.82,200.00 478.82,200.60" fill="none" stroke="#555" stroke-width="0.55"/>
<polyline points="472.38,200.00 472.38,199.30 491.69,199.30 491.69,200.85" fill="none" stroke="#555" stroke-width="0.55"/>
<polyline points="517.43,200.85 517.43,200.20 526.01,200.20 526.01,200.85" fill="none" stroke="#555" stroke-width="0.55"/>
<polyline points="500.27,200.85 500.27,199.80 508.85,199.80 508.85,200.85" fill="none" stroke="#555" stroke-width="0.55"/>
<polyline points="504.56,199.80 504.56,198.90 521.72,198.90 521.72,200.20" fill="none" stroke="#555" stroke-width="0.55"/>
<polyline points="482.04,199.30 482.04,198.30 513.14,198.30 513.14,198.90" fill="none" stroke="#555" stroke-width="0.55"/>
<polyline points="534.59,200.85 534.59,200.00 543.16,200.00 543.16,200.85" fill="none" stroke="#555" stroke-width="0.55"/>
<polyline points="538.88,200.00 538.88,199.20 551.74,199.20 551.74,200.85" fill="none" stroke="#555" stroke-width="0.55"/>
<polyline points="497.59,198.30 497.59,197.60 545.31,197.60 545.31,199.20" fill="none" stroke="#555" stroke-width="0.55"/>
<polyline points="453.08,200.30 453.08,197.30 521.45,197.30 521.45,197.60" fill="none" stroke="#555" stroke-width="0.55"/>
<polyline points="560.32,200.85 560.32,199.00 568.90,199.00 568.90,200.85" fill="none" stroke="#555" stroke-width="0.55"/>
<polyline points="564.61,199.00 564.61,197.20 577.48,197.20 577.48,200.85" fill="none" stroke="#555" stroke-width="0.55"/>
<polyline points="487.26,197.30 487.26,195.30 571.05,195.30 571.05,197.20" fill="none" stroke="#555" stroke-width="0.55"/>
<polyline points="586.06,200.85 586.06,198.20 594.64,198.20 594.64,200.85" fill="none" stroke="#555" stroke-width="0.55"/>
<polyline points="603.22,200.85 603.22,199.60 611.80,199.60 611.80,200.85" fill="none" stroke="#555" stroke-width="0.55"/>
<polyline points="620.38,200.85 620.38,199.80 628.96,199.80 628.96,200.85" fill="none" stroke="#555" stroke-width="0.55"/>
<polyline points="607.51,199.60 607.51,198.50 624.67,198.50 624.67,199.80" fill="none" stroke="#555" stroke-width="0.55"/>
<polyline points="590.35,198.20 590.35,194.20 616.09,194.20 616.09,198.50" fill="none" stroke="#555" stroke-width="0.55"/>
<polyline points="529.16,195.30 529.16,190.50 603.22,190.50 603.22,194.20" fill="none" stroke="#555" stroke-width="0.55"/>
<polyline points="633.65,206.04 634.20,206.04 634.20,215.62 633.65,215.62" fill="none" stroke="#555" stroke-width="0.55"/>
<polyline points="633.65,234.78 633.90,234.78 633.90,244.36 633.65,244.36" fill="none" stroke="#555" stroke-width="0.55"/>
<polyline points="633.65,225.20 634.50,225.20 634.50,239.57 633.90,239.57" fill="none" stroke="#555" stroke-width="0.55"/>
<polyline points="634.50,232.38 635.20,232.38 635.20,253.94 633.65,253.94" fill="none" stroke="#555" stroke-width="0.55"/>
<polyline points="633.65,282.68 634.30,282.68 634.30,292.26 633.65,292.26" fill="none" stroke="#555" stroke-width="0.55"/>
<polyline points="633.65,263.52 634.70,263.52 634.70,273.10 633.65,273.10" fill="none" stroke="#555" stroke-width="0.55"/>
<polyline points="634.70,268.31 635.60,268.31 635.60,287.47 634.30,287.47" fill="none" stroke="#555" stroke-width="0.55"/>
<polyline points="635.20,243.16 636.20,243.16 636.20,277.89 635.60,277.89" fill="none" stroke="#555" stroke-width="0.55"/>
<polyline points="633.65,301.84 634.50,301.84 634.50,311.41 633.65,311.41" fill="none" stroke="#555" stroke-width="0.55"/>
<polyline points="634.50,306.62 635.30,306.62 635.30,320.99 633.65,320.99" fill="none" stroke="#555" stroke-width="0.55"/>
<polyline points="636.20,260.52 636.90,260.52 636.90,313.81 635.30,313.81" fill="none" stroke="#555" stroke-width="0.55"/>
<polyline points="634.20,210.83 637.20,210.83 637.20,287.17 636.90,287.17" fill="none" stroke="#555" stroke-width="0.55"/>
<polyline points="633.65,330.57 635.50,330.57 635.50,340.15 633.65,340.15" fill="none" stroke="#555" stroke-width="0.55"/>
<polyline points="635.50,335.36 637.30,335.36 637.30,349.73 633.65,349.73" fill="none" stroke="#555" stroke-width="0.55"/>
<polyline points="637.20,249.00 639.20,249.00 639.20,342.55 637.30,342.55" fill="none" stroke="#555" stroke-width="0.55"/>
<polyline points="633.65,359.31 636.30,359.31 636.30,368.89 633.65,368.89" fill="none" stroke="#555" stroke-width="0.55"/>
<polyline points="633.65,378.47 634.90,378.47 634.90,388.05 633.65,388.05" fill="none" stroke="#555" stroke-width="0.55"/>
<polyline points="633.65,397.63 634.70,397.63 634.70,407.21 633.65,407.21" fill="none" stroke="#555" stroke-width="0.55"/>
<polyline points="634.90,383.26 636.00,383.26 636.00,402.42 634.70,402.42" fill="none" stroke="#555" stroke-width="0.55"/>
<polyline points="636.30,364.10 640.30,364.10 640.30,392.84 636.00,392.84" fill="none" stroke="#555" stroke-width="0.55"/>
<polyline points="639.20,295.77 644.00,295.77 644.00,378.47 640.30,378.47" fill="none" stroke="#555" stroke-width="0.55"/>
<text transform="translate(648.80,208.00) scale(0.955,1)" font-size="7.63" text-anchor="start" fill="#0c0c0c" >Correlation</text>
<defs><linearGradient id="gf" x1="0" y1="0" x2="0" y2="1"><stop offset="0" stop-color="#ff0000"/><stop offset="0.25" stop-color="#f3a3ad"/><stop offset="0.5" stop-color="#ffffff"/><stop offset="0.75" stop-color="#a8a8ff"/><stop offset="1" stop-color="#0000ff"/></linearGradient></defs>
<rect x="650.9" y="212.8" width="4.8" height="44.9" fill="url(#gf)"/>
<text transform="translate(671.50,217.40) scale(0.955,1)" font-size="7.52" text-anchor="end" fill="#0c0c0c" >1</text>
<text transform="translate(671.50,226.62) scale(0.955,1)" font-size="7.52" text-anchor="end" fill="#0c0c0c" >0.5</text>
<text transform="translate(671.50,237.85) scale(0.955,1)" font-size="7.52" text-anchor="end" fill="#0c0c0c" >0</text>
<text transform="translate(671.50,249.08) scale(0.955,1)" font-size="7.52" text-anchor="end" fill="#0c0c0c" >−0.5</text>
<text transform="translate(671.50,258.40) scale(0.955,1)" font-size="7.52" text-anchor="end" fill="#0c0c0c" >−1</text>
</svg>
</body></html>
